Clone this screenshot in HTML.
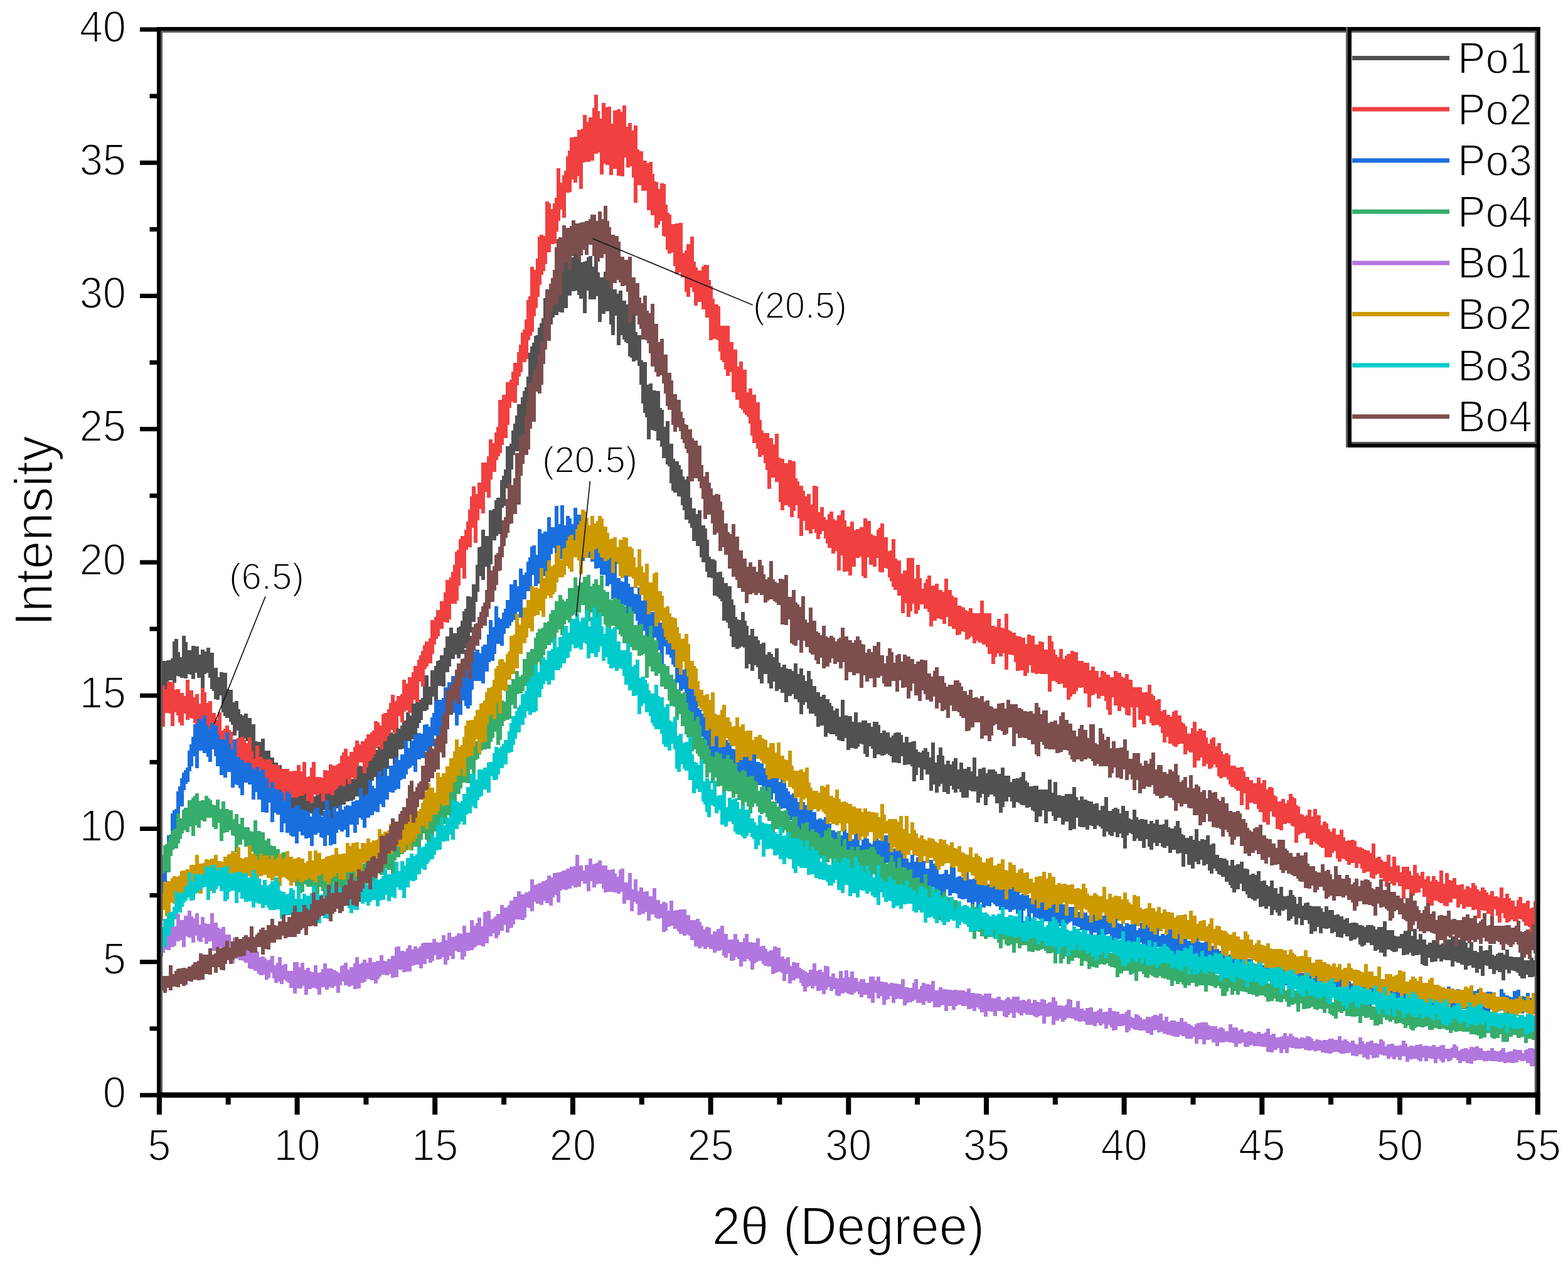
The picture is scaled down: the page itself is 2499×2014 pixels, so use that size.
<!DOCTYPE html><html><head><meta charset="utf-8"><title>XRD patterns</title><style>html,body{margin:0;padding:0;background:#fff;}svg{display:block;}text{font-family:"Liberation Sans",Arial,sans-serif;fill:#000;stroke:#fff;stroke-width:2.0px;stroke-linejoin:round;}</style></head><body>
<svg xmlns="http://www.w3.org/2000/svg" width="2499" height="2014" viewBox="0 0 2499 2014">
<rect width="2499" height="2014" fill="#fff"/>
<g stroke="none">
<path fill="#515151" d="M254 1056h3v-3h3h3h3v-1h3h3v-3h3v-27h3v-4h3h3v21h3v8h3v-34h3h3v10h3v13h3h3v-7h3h3v1h3h3v13h3v-8h3h3v3h3v-6h3h3v8h3h3v24h3h3v15h3v-8h3h3v1h3h3v26h3v1h3h3v20h3v-2h3h3v13h3v8h3v2h3v-3h3h3v7h3h3v10h3h3v27h3v1h3h3v-5h3h3v19h3h3h3v11h3h3v8h3h3v4h3h3v10h3v5h3v11h3v-15h3h3v5h3v18h3h3v-6h3h3v14h3v4h3v-4h3v-11h3h3v1h3v18h3h3v-9h3h3v-2h3v-8h3h3v4h3h3v4h3h3v6h3v-5h3v-11h3v-13h3h3v5h3v-7h3h3v10h3v-2h3h3v-13h3h3v-8h3h3v1h3v2h3v-6h3v-1h3v-17h3h3v1h3v-5h3h3v-6h3h3v-4h3v-6h3h3v-17h3h3v5h3v2h3v-27h3h3v19h3v-5h3v-8h3h3v-13h3h3v5h3v-19h3h3v-2h3v-2h3v-2h3v-3h3v-19h3v-17h3h3v18h3v-26h3h3v-7h3v-8h3v-1h3v-8h3h3v-12h3v-18h3h3v-14h3h3v9h3h3v-9h3v-2h3v-9h3v-15h3v-4h3v-20h3h3v1h3v-20h3h3v-31h3v-28h3v-1h3v-27h3h3v10h3h3v-41h3h3v-2h3v-14h3v-4h3h3v-28h3v-7h3v-10h3v-37h3h3v-4h3v-21h3v-11h3v-13h3v-18h3h3v-11h3v-10h3v-6h3v-17h3v-38h3v-10h3v-6h3v-11h3v-1h3v-12h3v-7h3v-8h3v-32h3v-14h3h3v6h3v-2h3v-12h3v-11h3h3h3v2h3v-27h3v-20h3h3v5h3v8h3h3v-16h3v-2h3v-15h3h3v41h3v-1h3v-1h3v-6h3v-2h3h3v17h3v-36h3h3v45h3v8h3h3v-9h3v-8h3h3v15h3v13h3v8h3h3v7h3v-5h3h3v16h3h3v6h3v23h3v6h3v-22h3h3v37h3v5h3h3v40h3v3h3h3v36h3v-2h3h3v11h3h3v1h3h3v27h3v3h3v27h3v-9h3h3v36h3h3v24h3v4h3h3v6h3v7h3v11h3v5h3v-5h3h3v34h3v17h3h3v9h3v-6h3h3v24h3h3v5h3v18h3v27h3v4h3h3v2h3v19h3v-1h3h3v9h3v9h3h3v5h3h3v21h3v9h3v19h3v4h3v1h3v-13h3h3v14h3v8h3v15h3v-10h3h3v12h3h3v6h3v6h3v-2h3h3v19h3v-4h3h3v3h3v5h3v-14h3h3v23h3v7h3v-4h3h3v6h3v1h3h3v3h3v-12h3h3v17h3v-9h3h3v11h3v9h3v-16h3h3v13h3v11h3h3v10h3h3v7h3v-3h3h3v7h3h3v6h3v5h3v7h3v-3h3h3v13h3v-27h3h3v25h3h3v1h3h3v9h3v-15h3h3v16h3h3v-3h3h3h3v4h3h3v6h3v-8h3h3h3v5h3v13h3v-4h3h3v3h3h3v8h3v-3h3v-4h3v-1h3h3h3v4h3v12h3v-9h3h3v9h3v-1h3v-1h3h3v13h3v4h3v1h3v-3h3v-4h3h3v6h3v9h3v-24h3h3v32h3v-12h3v-12h3h3v13h3v14h3v-6h3h3v6h3v-5h3v-5h3h3v18h3v-11h3h3v10h3h3v-3h3h3v7h3v-22h3h3v30h3v-12h3h3v-2h3h3v9h3v-6h3h3h3h3v3h3v4h3h3v-10h3h3v13h3h3h3v10h3v-5h3h3v-1h3h3v-2h3v-8h3h3v14h3v3h3v6h3h3v-1h3h3h3v6h3h3h3h3h3v-16h3h3v21h3v-17h3h3v21h3h3v1h3h3v-3h3h3h3h3v-11h3h3v16h3v5h3v-6h3h3v5h3h3v2h3v1h3h3v4h3v-1h3h3v11h3v-7h3h3v-14h3h3v22h3h3v-3h3v-2h3h3v2h3v7h3v-12h3h3v8h3h3v12h3v2h3v-16h3h3v12h3v4h3v-1h3h3v1h3h3v7h3v-5h3h3v4h3v-6h3h3v8h3h3v-1h3v-7h3h3v12h3v2h3h3v-4h3v-8h3h3v11h3v10h3v2h3v4h3h3v-3h3h3v6h3v-17h3h3v19h3v-3h3h3v1h3v-7h3h3v15h3v-2h3h3v18h3h3v5h3h3v1h3h3v3h3v8h3v-9h3h3v9h3v-2h3h3v-4h3h3v11h3h3v1h3v9h3v-2h3h3v2h3v-6h3h3v16h3v-1h3h3v7h3v2h3v-9h3h3v12h3h3v9h3v-11h3h3v15h3h3v-1h3v-9h3h3v8h3v3h3v11h3v-11h3h3v14h3v-4h3v-1h3h3v5h3v1h3h3h3h3h3v3h3v6h3v-9h3h3v6h3h3h3v8h3v-1h3h3v3h3h3v5h3v-2h3h3v8h3v-1h3h3h3v1h3v3h3h3v1h3v2h3v-3h3h3h3h3v2h3v5h3v-4h3h3h3v-9h3h3v14h3h3h3h3v9h3v1h3h3v-4h3h3v-5h3h3v-2h3h3v10h3v-11h3h3v17h3v-9h3h3v9h3h3v8h3v-3h3h3v-4h3h3v5h3h3v2h3v-2h3h3h3v-6h3h3v-5h3h3v14h3v-9h3h3v2h3h3h3v3h3v8h3v-9h3h3v14h3h3v2h3v-10h3h3v8h3v-1h3h3v-8h3h3v15h3v2h3v-3h3v-2h3h3h3v3h3v-8h3h3v11h3h3v1h3h3h3h3v-9h3h3v14h3h3h3v-4h3h3v4h3v-6h3v32h-3h-3v1h-3h-3h-3v-4h-3v6h-3h-3h-3v-4h-3v-5h-3v-2h-3v-1h-3v-1h-3v5h-3h-3v-6h-3v17h-3h-3v-13h-3h-3v-3h-3v6h-3h-3v-8h-3h-3v-5h-3v-1h-3v17h-3h-3v-11h-3v6h-3h-3v-8h-3h-3v-4h-3v1h-3v6h-3h-3v-8h-3h-3v-3h-3h-3v-2h-3v8h-3h-3v-10h-3h-3h-3v-1h-3v3h-3h-3v-5h-3v5h-3h-3v1h-3h-3v-7h-3v13h-3h-3v-1h-3v-2h-3v-15h-3v1h-3h-3v1h-3h-3v-5h-3v3h-3h-3v1h-3h-3v-11h-3h-3v5h-3v1h-3h-3v-2h-3v-2h-3h-3v11h-3h-3v-6h-3h-3v-5h-3v2h-3h-3v-9h-3h-3v-4h-3h-3v4h-3v2h-3h-3v-3h-3v-11h-3v3h-3h-3v2h-3h-3v-7h-3h-3v-4h-3v6h-3h-3v-1h-3h-3v-8h-3v2h-3h-3v-8h-3v1h-3h-3v-1h-3v8h-3h-3v-10h-3v7h-3h-3v4h-3h-3v-16h-3v-6h-3h-3v8h-3h-3v-11h-3v10h-3h-3v-13h-3v4h-3v3h-3h-3v-18h-3v2h-3h-3v8h-3h-3v-5h-3v-4h-3v8h-3h-3v-14h-3v4h-3h-3v-4h-3v1h-3h-3v-13h-3v3h-3h-3v-2h-3v-2h-3h-3v-6h-3v-5h-3h-3v-12h-3v9h-3h-3v5h-3h-3v-7h-3v-5h-3v-5h-3h-3v-8h-3h-3v-3h-3v-1h-3v-5h-3v-4h-3v8h-3h-3v-5h-3v-10h-3v2h-3h-3v-9h-3v7h-3h-3v-4h-3v11h-3h-3v-6h-3h-3v-17h-3v20h-3h-3v-22h-3v1h-3h-3v-6h-3h-3v5h-3h-3v-11h-3v3h-3h-3v-2h-3v-6h-3v5h-3h-3v-5h-3v11h-3h-3v-5h-3v-12h-3v14h-3h-3v-11h-3h-3v-4h-3v4h-3h-3v-11h-3v-2h-3v4h-3v21h-3h-3v-17h-3v-7h-3v6h-3h-3v-8h-3v6h-3h-3v-2h-3v-5h-3v8h-3h-3v-13h-3v-3h-3v-2h-3v6h-3h-3v-5h-3v-1h-3v7h-3h-3v-4h-3h-3h-3v-1h-3v-14h-3v18h-3h-3v2h-3h-3v-14h-3h-3v5h-3h-3v-11h-3h-3v5h-3h-3v-8h-3v-7h-3h-3v19h-3h-3v-21h-3v10h-3h-3v9h-3h-3v-17h-3v-2h-3v-5h-3v1h-3h-3v-4h-3h-3v-1h-3v-3h-3v-1h-3v9h-3h-3v-10h-3v-7h-3v7h-3h-3v9h-3v9h-3h-3v-15h-3h-3v-11h-3v-3h-3h-3v4h-3v13h-3h-3v-18h-3v6h-3v8h-3h-3v-18h-3h-3h-3v-2h-3v12h-3h-3h-3h-3v-9h-3v-5h-3v6h-3h-3v-5h-3v-6h-3v13h-3h-3v-3h-3h-3v-13h-3v4h-3v10h-3h-3v-13h-3v10h-3h-3v-26h-3h-3v-8h-3v17h-3h-3v-20h-3v12h-3v10h-3h-3v-24h-3v-3h-3h-3v1h-3h-3v-14h-3v11h-3h-3v-1h-3h-3h-3v-10h-3v-2h-3v-2h-3v2h-3v1h-3h-3v-2h-3h-3v6h-3h-3v-15h-3v-4h-3v17h-3h-3v-5h-3v-15h-3v-1h-3v5h-3v3h-3h-3v-1h-3h-3v3h-3h-3v-19h-3v5h-3h-3v-1h-3v-1h-3v-6h-3v-3h-3h-3h-3v-2h-3v6h-3h-3v-18h-3h-3v2h-3h-3v-17h-3v-4h-3h-3h-3v-8h-3v-10h-3v4h-3v15h-3h-3v-19h-3v-5h-3h-3v-8h-3v3h-3h-3v10h-3h-3v-15h-3h-3v-6h-3v3h-3h-3v-15h-3v11h-3h-3v-8h-3v-15h-3h-3v15h-3h-3v-7h-3v-19h-3v-3h-3v9h-3h-3v-11h-3v7h-3h-3v-33h-3v-2h-3v2h-3v2h-3h-3v-3h-3h-3v-17h-3v-13h-3v-9h-3v-3h-3h-3v-31h-3v-4h-3v-3h-3v-2h-3h-3v-28h-3v-1h-3h-3v-9h-3v-15h-3h-3v-8h-3v-18h-3h-3v-8h-3h-3v-21h-3v-7h-3v-6h-3h-3v-15h-3v-8h-3v-14h-3h-3v-6h-3h-3v-3h-3v-12h-3v-27h-3v-3h-3v-10h-3h-3v-18h-3v-10h-3h-3v-15h-3v-1h-3v-1h-3v15h-3h-3v-35h-3v-7h-3v-15h-3v-30h-3v-30h-3v-9h-3v2h-3h-3v-6h-3v-2h-3v-21h-3v-2h-3v-4h-3v-7h-3v16h-3h-3v-47h-3v31h-3h-3v-17h-3v-21h-3h-3v4h-3h-3v13h-3h-3v-41h-3v5h-3h-3h-3h-3v-14h-3v36h-3h-3v-23h-3h-3v-6h-3v-7h-3v1h-3h-3v7h-3h-3v20h-3h-3v7h-3h-3v-1h-3v5h-3h-3v4h-3v11h-3v11h-3h-3h-3v30h-3v4h-3v7h-3v33h-3v7h-3h-3v12h-3h-3v19h-3v40h-3h-3v12h-3h-3v13h-3v14h-3h-3v6h-3v23h-3v27h-3h-3v3h-3v28h-3v3h-3v42h-3h-3v3h-3v7h-3h-3v38h-3v21h-3h-3v-17h-3v21h-3h-3v-6h-3v25h-3v16h-3v32h-3h-3v17h-3v20h-3h-3v5h-3v9h-3h-3v7h-3h-3v-6h-3v7h-3h-3v12h-3v9h-3h-3v23h-3h-3v-1h-3h-3v24h-3h-3v-7h-3v13h-3h-3v8h-3v2h-3h-3v14h-3v5h-3v8h-3v12h-3h-3v6h-3v3h-3h-3v-1h-3v7h-3v6h-3v1h-3h-3v12h-3v23h-3h-3v-20h-3h-3v16h-3h-3v7h-3v9h-3h-3v-1h-3h-3v-2h-3v6h-3v3h-3h-3v19h-3v6h-3h-3v-8h-3h-3v5h-3h-3v5h-3v2h-3h-3v1h-3h-3v5h-3h-3v12h-3h-3v-6h-3v8h-3h-3v14h-3h-3v-8h-3v-5h-3v-6h-3v9h-3h-3v3h-3v13h-3h-3v-13h-3v-7h-3v-1h-3h-3v9h-3h-3v-7h-3h-3v7h-3h-3v-7h-3h-3v-13h-3h-3v-2h-3v-4h-3v-12h-3v-1h-3v-1h-3h-3v-10h-3v-4h-3h-3v11h-3h-3v-35h-3h-3v-1h-3v-3h-3v-12h-3v2h-3h-3v6h-3h-3v-32h-3v-5h-3v-4h-3v-3h-3v14h-3h-3v-24h-3v8h-3h-3v-17h-3v-5h-3v-6h-3h-3v-3h-3v-6h-3v-27h-3v7h-3h-3v-1h-3v-13h-3v-3h-3v-18h-3v-8h-3v2h-3v25h-3h-3v-19h-3h-3v-8h-3v10h-3h-3v-7h-3v-1h-3v7h-3h-3v-1h-3h-3v-2h-3v-1h-3v11h-3h-3v-4h-3h-3v9h-3v18h-3h-3v-12h-3v4h-3z"/>
<path fill="#F14040" d="M254 1106h3v-14h3h3v6h3v-12h3h3v1h3h3v12h3v-1h3h3v6h3h3v5h3v-26h3h3v17h3h3v11h3v-5h3h3v15h3v-25h3h3v7h3v17h3v-3h3h3v19h3h3v11h3v-12h3h3v29h3v-3h3v-5h3h3v7h3v3h3v13h3h3v-3h3h3v-2h3h3v4h3v6h3v-9h3h3v22h3v12h3v-21h3h3v18h3h3v4h3h3h3h3v2h3v6h3h3v1h3h3v6h3h3h3h3h3v4h3h3v-1h3h3v-9h3h3v10h3v-15h3h3v24h3v-1h3v-14h3v-9h3h3v24h3h3h3v1h3v-12h3h3v1h3v-10h3h3v2h3h3v-2h3v-2h3v-12h3v-5h3v-6h3h3v12h3v-7h3h3v-8h3v-10h3h3v6h3v-5h3h3v-4h3v-7h3h3v-3h3v-3h3v-15h3h3v2h3v5h3v-18h3v-2h3h3v-6h3v-10h3v-13h3h3v10h3v-8h3h3v-3h3v-23h3h3v6h3v-10h3h3v-8h3v-10h3h3v-10h3v-7h3v-7h3v-9h3v-6h3h3v-5h3v-29h3h3v-5h3v-11h3h3v-14h3h3v-14h3v-20h3h3v-4h3v-9h3v-11h3v-21h3v-3h3v-17h3v-5h3h3v-10h3v-13h3v-19h3v-21h3v-16h3h3v12h3v-18h3h3v-32h3h3h3v-10h3v-27h3h3v6h3v-17h3v-9h3v-43h3h3v-8h3h3v-20h3h3v-4h3v-13h3v-14h3h3v-17h3v-12h3v-19h3v-5h3v-16h3v-31h3v-6h3v-47h3h3v5h3v-18h3v-35h3v-3h3h3v2h3v-55h3h3v3h3v9h3v-9h3v-9h3v-47h3h3v23h3v-12h3v-7h3v-23h3v-9h3v-21h3h3v-1h3h3v-11h3h3v-2h3v-22h3h3v11h3v-7h3h3v-15h3v-21h3h3v26h3v12h3v-25h3h3v7h3v-1h3h3v27h3v-21h3h3v-2h3h3v4h3v-10h3h3v34h3v-6h3h3v12h3v-8h3h3v38h3v3h3h3v15h3h3v4h3v-2h3h3v19h3v12h3v1h3v11h3v-9h3h3v1h3v33h3v13h3v3h3v15h3h3v-1h3h3v-1h3h3v48h3v-4h3v-10h3h3v-12h3h3v40h3v9h3v5h3h3v-6h3v-3h3h3h3v24h3v10h3v20h3v9h3h3v3h3v31h3h3h3h3h3v26h3h3v12h3h3v27h3v-8h3h3v13h3h3v36h3v-6h3h3v10h3h3v12h3h3v28h3v17h3v4h3h3h3v8h3h3v10h3v-17h3h3v38h3v2h3h3v7h3h3v-5h3h3v2h3h3v27h3v5h3v7h3h3v8h3v9h3v-4h3h3v17h3v-30h3h3v1h3v41h3v-8h3h3v16h3v4h3v-9h3v-4h3h3v12h3v2h3v-8h3h3v-8h3h3v16h3v10h3h3v-8h3h3v14h3v-2h3h3v-3h3h3v-14h3h3v4h3h3v21h3v2h3v1h3v-10h3v-3h3v-7h3h3v22h3h3v22h3v-1h3v-18h3h3v31h3v3h3h3v21h3v-5h3h3v-20h3h3h3h3v33h3v-22h3h3v21h3v17h3v-9h3v-6h3v-6h3h3v16h3h3v-3h3h3v10h3h3v3h3v-21h3h3v18h3h3v9h3v3h3h3v13h3h3v2h3v1h3v4h3v2h3v-5h3h3v8h3h3h3h3v-20h3h3v20h3h3h3h3v20h3h3v2h3v-13h3h3v14h3v1h3v-23h3h3v26h3v2h3v2h3h3v5h3v1h3h3v2h3h3v10h3v-15h3h3v2h3h3v14h3h3v-5h3h3v1h3v12h3h3v-22h3h3v9h3v13h3v8h3v4h3v-13h3h3v16h3v-5h3v-3h3h3v-5h3h3v2h3h3v14h3h3h3v3h3h3h3v12h3v-6h3h3v7h3h3v10h3v-10h3h3v2h3v4h3h3v4h3h3v-10h3h3v3h3h3v6h3v2h3v-6h3h3v9h3h3v12h3h3h3h3h3v8h3h3h3v-12h3h3v15h3v3h3v7h3v-2h3h3v19h3v-2h3h3v8h3h3v3h3v-8h3v-2h3h3v8h3h3v11h3v2h3v4h3v12h3h3v-9h3v-10h3h3v15h3v-4h3h3v3h3h3v11h3v10h3v-7h3v-3h3h3v14h3v-5h3h3v13h3v5h3v-2h3h3v3h3v17h3h3h3v3h3h3v-1h3h3v7h3v9h3h3v5h3h3v5h3h3v-9h3h3v9h3v-5h3h3v15h3v-4h3h3v1h3v12h3v2h3v8h3h3v-4h3h3v7h3v-5h3v-10h3h3v5h3v2h3v11h3v2h3v12h3v1h3v3h3v-2h3v-9h3h3v11h3v-12h3h3v10h3h3v16h3v-6h3h3v3h3v9h3v4h3v-5h3h3v10h3h3v-8h3h3v12h3v6h3v-1h3h3v-1h3h3v2h3v9h3v1h3h3v2h3v2h3v1h3h3v4h3v-15h3h3v23h3v-2h3h3v5h3v3h3h3v-11h3h3v19h3v-16h3h3v14h3h3v11h3v-9h3h3h3h3v7h3v7h3v-17h3h3v13h3v4h3v-6h3h3v12h3v-5h3h3v8h3v-8h3h3v6h3v3h3v-18h3h3v21h3v-17h3h3v11h3v1h3v-4h3h3v11h3h3v-1h3h3v8h3v-5h3h3v3h3v-8h3h3v4h3v6h3v3h3v-6h3h3v4h3v4h3v4h3v-6h3h3v8h3h3v2h3v-16h3h3v17h3v-7h3h3v7h3v4h3h3v9h3v-10h3v-5h3h3v10h3h3v-4h3h3v12h3v-1h3v-10h3h3v54h-3h-3v-2h-3h-3v-11h-3v-2h-3h-3v-6h-3v-4h-3v-1h-3v3h-3v1h-3h-3v-3h-3v3h-3v2h-3h-3v-7h-3v-8h-3v15h-3h-3v-11h-3v-10h-3v13h-3h-3v-6h-3h-3v-5h-3h-3v-1h-3v13h-3h-3v-14h-3v1h-3h-3v-5h-3h-3h-3v3h-3h-3v-7h-3v5h-3h-3v-14h-3h-3v6h-3h-3v6h-3h-3v-1h-3v-4h-3h-3v-2h-3v-2h-3h-3v8h-3h-3v1h-3h-3v-15h-3h-3v-14h-3v7h-3h-3v1h-3v4h-3h-3v-4h-3v-6h-3h-3v15h-3h-3v-20h-3h-3v-6h-3v5h-3h-3v-3h-3v-4h-3v9h-3h-3v-9h-3v-5h-3h-3v-7h-3v2h-3v6h-3h-3v-2h-3v-9h-3h-3v2h-3h-3v-7h-3v-8h-3v7h-3h-3v-8h-3h-3v3h-3h-3v-6h-3v-3h-3v-1h-3v5h-3h-3v-5h-3v-12h-3v3h-3v7h-3h-3h-3h-3v-15h-3h-3v-2h-3v-3h-3v-2h-3v-3h-3v5h-3h-3v-10h-3h-3v-9h-3h-3v1h-3v2h-3v13h-3h-3v-26h-3v-1h-3v-4h-3v-1h-3v2h-3h-3v10h-3h-3v-2h-3h-3v-19h-3v-1h-3v-8h-3v21h-3h-3v-4h-3h-3v-16h-3h-3v-5h-3v-8h-3h-3v-2h-3h-3v11h-3h-3v-26h-3v19h-3h-3v-23h-3h-3v-3h-3v-3h-3h-3v-4h-3v-8h-3v-4h-3h-3v2h-3h-3v-3h-3v-14h-3v-5h-3v5h-3v2h-3h-3v-8h-3v4h-3h-3v-14h-3v5h-3h-3v11h-3h-3v-24h-3h-3v-3h-3v6h-3h-3v-17h-3h-3v1h-3v4h-3h-3v-2h-3v-3h-3h-3v-11h-3v9h-3h-3v-15h-3v-10h-3v-3h-3h-3v1h-3h-3v-4h-3v-11h-3v-1h-3v14h-3h-3v-7h-3h-3v-20h-3v32h-3h-3v-32h-3v13h-3h-3v-1h-3v-11h-3v-2h-3v7h-3h-3v-9h-3h-3v-13h-3v28h-3h-3v-8h-3v-14h-3v-8h-3h-3v4h-3h-3v-8h-3v2h-3v1h-3v19h-3h-3v-22h-3h-3v-10h-3v1h-3h-3v5h-3v5h-3h-3v4h-3v5h-3h-3v-19h-3h-3v-7h-3v1h-3h-3v-3h-3v-2h-3h-3v17h-3h-3v-28h-3h-3h-3h-3v-1h-3v1h-3h-3v-2h-3h-3v-12h-3v12h-3v5h-3h-3v-9h-3h-3v1h-3h-3v-14h-3v-11h-3v-1h-3h-3v24h-3h-3v-26h-3v5h-3h-3v-5h-3v6h-3v11h-3h-3v-16h-3h-3v-11h-3v-4h-3h-3v-3h-3h-3v-3h-3v4h-3h-3v-11h-3v3h-3v2h-3h-3v-12h-3v-1h-3v5h-3v1h-3h-3v-10h-3h-3v-4h-3h-3v-15h-3v11h-3h-3v-7h-3v-1h-3v-1h-3v4h-3h-3v9h-3h-3v-23h-3v-5h-3h-3v-7h-3h-3v9h-3v6h-3h-3v-16h-3v12h-3v9h-3h-3v-22h-3v16h-3h-3v-28h-3h-3v-9h-3h-3v-5h-3v-9h-3v-6h-3v-14h-3v-1h-3v7h-3h-3v-1h-3v-22h-3v14h-3h-3v-3h-3h-3v-12h-3v33h-3h-3v-3h-3v-31h-3v2h-3h-3v14h-3h-3v14h-3h-3v-7h-3v1h-3h-3v-26h-3v24h-3h-3v-31h-3v4h-3h-3v-9h-3h-3v-7h-3v-8h-3v-12h-3v5h-3v8h-3h-3v-10h-3v-6h-3v7h-3h-3v-5h-3h-3v-15h-3v24h-3h-3v-28h-3v-21h-3v9h-3v10h-3h-3v-16h-3v-3h-3h-3v8h-3h-3v-13h-3v-32h-3h-3v-7h-3h-3v18h-3h-3v-30h-3v-11h-3v-13h-3v3h-3h-3v-13h-3v-9h-3h-3v-12h-3v-19h-3v-11h-3v-3h-3v-3h-3v-5h-3v-3h-3v-13h-3h-3v-12h-3h-3v-32h-3v6h-3h-3v-10h-3v-12h-3v-3h-3v-14h-3v-18h-3v-2h-3h-3v2h-3h-3v-36h-3h-3v-13h-3h-3v-12h-3h-3v6h-3h-3v-22h-3v-7h-3v15h-3h-3v-8h-3v-23h-3h-3v-8h-3v3h-3h-3v-13h-3v-22h-3v2h-3h-3v-6h-3v-21h-3v-1h-3v-24h-3v6h-3v5h-3h-3v-20h-3h-3v-8h-3h-3v-31h-3h-3h-3v-9h-3h-3v28h-3h-3v-40h-3v-18h-3v2h-3h-3v-16h-3v30h-3h-3v-1h-3h-3v-11h-3h-3v10h-3h-3v-16h-3h-3v-2h-3v17h-3h-3v-35h-3v2h-3h-3v11h-3h-3v2h-3h-3h-3v1h-3v42h-3h-3v-20h-3v10h-3h-3v-5h-3v20h-3v1h-3h-3v40h-3h-3v-13h-3v18h-3v17h-3v19h-3v1h-3h-3v13h-3h-3v19h-3v11h-3v6h-3v16h-3v19h-3v18h-3v13h-3v25h-3v6h-3v7h-3v30h-3v5h-3h-3v16h-3v7h-3v14h-3v28h-3h-3v-2h-3v10h-3v27h-3v21h-3h-3v11h-3v13h-3v5h-3v6h-3v19h-3h-3v12h-3v29h-3h-3v-9h-3v34h-3h-3v-7h-3v18h-3v36h-3h-3v-24h-3v31h-3h-3v4h-3v46h-3h-3v-17h-3v28h-3v24h-3v5h-3h-3h-3v25h-3v5h-3h-3v-1h-3v11h-3h-3v12h-3v4h-3v9h-3v15h-3v15h-3h-3v5h-3v4h-3v28h-3h-3v-8h-3v33h-3h-3v-4h-3v6h-3v15h-3h-3v-4h-3v2h-3v17h-3h-3v-10h-3v19h-3v8h-3h-3v-5h-3v7h-3v3h-3v8h-3h-3v13h-3h-3v-6h-3v4h-3v10h-3v5h-3v5h-3v1h-3v10h-3v9h-3h-3v-17h-3h-3v7h-3v20h-3h-3v-3h-3v10h-3h-3v-7h-3v11h-3h-3v-2h-3v1h-3v5h-3v2h-3v8h-3h-3v-3h-3v1h-3h-3v12h-3h-3v-13h-3v3h-3h-3v-1h-3v14h-3h-3v-4h-3h-3v-11h-3v3h-3h-3h-3v3h-3h-3h-3h-3v7h-3h-3v3h-3h-3v-11h-3v-11h-3v23h-3h-3v-2h-3h-3v-22h-3h-3v-5h-3v8h-3h-3v-13h-3v9h-3h-3v-11h-3h-3v-12h-3v-3h-3h-3v-7h-3v10h-3h-3v-13h-3v3h-3h-3v-1h-3h-3v-2h-3v-4h-3v-9h-3h-3v-3h-3h-3v5h-3h-3v-13h-3v-19h-3v-8h-3v9h-3h-3v3h-3h-3v-20h-3v17h-3h-3v-16h-3v-5h-3v-6h-3v-7h-3v-1h-3v3h-3h-3v-10h-3v19h-3h-3v-5h-3v-11h-3v-5h-3v22h-3h-3v-20h-3v-1h-3h-3v22h-3h-3v-3h-3z"/>
<path fill="#1A6FDF" d="M254 1387h3v-13h3v-8h3v-16h3v-19h3v-1h3v-34h3v-5h3v-2h3v-28h3v-8h3v-13h3v-9h3v-4h3v-4h3v-27h3v-10h3v-12h3v-20h3h3v-9h3h3v3h3v-8h3h3v15h3v6h3v-9h3h3v4h3h3v14h3v8h3h3v1h3v-12h3h3v18h3v9h3v-16h3h3v28h3h3v5h3h3v5h3v-1h3h3v1h3v7h3v3h3v-4h3h3v7h3v-3h3h3v13h3v2h3v15h3v-10h3h3v10h3v2h3h3v3h3v2h3v13h3v-15h3h3v4h3v23h3h3v-5h3h3v1h3v6h3h3v1h3h3v3h3v7h3v-7h3v-5h3v-2h3h3v10h3v4h3v-9h3v-17h3h3v15h3v13h3v-18h3h3v8h3v-10h3h3v7h3v-5h3v-2h3h3v1h3v-7h3h3v-2h3h3v-19h3h3v13h3v-3h3h3v-23h3h3v9h3v4h3v-18h3v-9h3h3v7h3v-12h3h3v12h3v-16h3h3v-3h3v-11h3h3v5h3v-9h3h3v-22h3h3v12h3v-12h3h3v-9h3h3v-3h3h3v1h3v-14h3v-1h3h3v4h3v-15h3v-7h3v-19h3h3v-2h3h3v-3h3v-17h3h3v-8h3h3v-10h3h3v1h3v-9h3h3v-1h3h3v-4h3h3v2h3v-13h3v-10h3v-5h3v-3h3h3v6h3v-11h3v-3h3h3v-16h3v-23h3h3v11h3v-33h3h3v18h3v2h3v-10h3v-6h3v-14h3h3v-25h3h3v-7h3h3v10h3v-28h3h3v10h3v-4h3v-17h3v-7h3v-17h3v-2h3h3v15h3v-41h3h3v7h3v-3h3h3v-23h3h3v16h3h3v-34h3h3v29h3v-30h3h3v32h3v-15h3h3v4h3v9h3v-26h3h3v11h3h3v11h3h3v15h3v3h3v-4h3v-9h3h3v6h3h3v12h3v-14h3h3v38h3v1h3v10h3h3v7h3v-9h3h3v34h3h3v5h3v1h3v-14h3h3v17h3v5h3h3v11h3v1h3v-11h3h3v21h3v-18h3h3v22h3v15h3v-1h3h3v2h3v8h3v1h3v6h3v-4h3h3v11h3v4h3h3v12h3v19h3v-3h3h3v13h3h3v23h3v-6h3h3v20h3h3v14h3v11h3h3v22h3v3h3v6h3v6h3h3v7h3h3v15h3h3v1h3h3v6h3h3v14h3v-7h3h3v4h3v1h3v9h3v1h3v-11h3h3v14h3v5h3v-4h3h3v7h3v-15h3h3v10h3v1h3v13h3h3v2h3h3v8h3v-5h3h3v-8h3h3v24h3v-5h3h3v16h3v-17h3h3v13h3v14h3v5h3v5h3v-2h3h3v3h3v11h3h3h3h3v5h3v-1h3h3v8h3v4h3h3v12h3v-2h3h3v2h3v-4h3h3v10h3h3v11h3h3v3h3h3v6h3v-1h3v-11h3h3v7h3v12h3h3v-2h3v-10h3h3h3v20h3v-9h3v-2h3h3h3v7h3v2h3v-17h3h3h3v11h3v-4h3h3v-4h3h3v9h3v7h3h3v5h3v-1h3h3v-9h3h3v14h3h3v12h3v6h3v-12h3h3v11h3v-7h3h3v1h3h3v5h3v12h3h3v-14h3h3v6h3h3v5h3v12h3h3v-1h3v-6h3h3v7h3v-12h3v-1h3h3v18h3v-2h3h3v2h3h3v-12h3h3v15h3h3v-1h3h3v1h3h3v2h3h3v1h3v4h3v1h3v-4h3h3v5h3h3v4h3v-1h3v-3h3h3v11h3v-3h3v-12h3h3v6h3v-2h3h3v9h3v7h3v-2h3v-1h3h3v3h3v5h3h3v-5h3h3v2h3v7h3h3v-12h3h3v1h3v4h3h3v7h3v5h3v-8h3h3v9h3h3h3v-1h3h3v5h3h3h3v2h3v5h3v1h3v-12h3h3v13h3h3v5h3v-10h3h3v1h3v4h3h3v3h3h3v2h3h3v-1h3h3v8h3v1h3v-14h3h3v18h3v1h3h3v4h3v-5h3h3v2h3h3v-3h3h3v12h3v-3h3v-9h3h3v10h3v-7h3h3v-5h3h3v19h3v-17h3h3v21h3v-3h3h3v2h3v-16h3h3v4h3v13h3v-4h3h3v-3h3h3v8h3h3v3h3v4h3h3v-1h3h3v-12h3h3v14h3v2h3h3v-1h3h3v-3h3h3v9h3v2h3v2h3v1h3v3h3v4h3v-12h3h3v4h3v10h3v-14h3h3v16h3h3h3v6h3v-2h3h3v1h3h3h3h3v6h3v2h3v-13h3h3v1h3v14h3h3v-4h3h3v6h3v-4h3h3v7h3v5h3h3v-4h3h3v-3h3h3h3h3v4h3v2h3v3h3v-1h3h3v1h3h3v1h3h3v-10h3h3v13h3v-3h3h3h3h3v-3h3h3v-2h3h3v6h3h3v4h3v7h3v-3h3h3v1h3h3v1h3h3v1h3v4h3v-4h3v-8h3h3v13h3v-1h3h3v-7h3h3v7h3v2h3v-2h3h3v1h3h3v5h3h3v1h3v1h3v-1h3v-7h3h3v12h3v-1h3v-5h3h3v2h3v1h3v1h3v-1h3v-1h3h3v-1h3v-1h3h3v3h3v2h3v1h3v-3h3h3h3h3v4h3v1h3v-2h3h3v4h3h3v-8h3h3v6h3v-9h3h3v11h3v-6h3h3v-1h3h3v5h3h3v4h3h3v-1h3v-1h3h3v-4h3h3v-3h3h3v13h3v-3h3v-2h3v-4h3h3h3v3h3v7h3v-1h3v-1h3v-12h3h3v6h3v4h3h3v2h3v1h3v-10h3h3v-2h3h3v10h3h3v1h3v-6h3h3v8h3v-3h3v-2h3h3v38h-3v-8h-3v-3h-3v4h-3h-3v-5h-3h-3v4h-3h-3v-3h-3h-3h-3v7h-3h-3v-5h-3v5h-3h-3v-7h-3v-2h-3h-3v1h-3v3h-3h-3v-5h-3h-3v3h-3h-3v-1h-3h-3v-3h-3v-1h-3v-1h-3v2h-3h-3v-1h-3h-3v1h-3h-3h-3h-3h-3h-3v10h-3h-3v-12h-3h-3h-3v-3h-3v1h-3v1h-3h-3v1h-3v9h-3h-3v-9h-3v7h-3h-3v-12h-3h-3h-3v4h-3v2h-3h-3v-3h-3h-3v4h-3h-3h-3v-3h-3v-3h-3h-3v4h-3h-3v-4h-3v-2h-3v3h-3v2h-3h-3v-6h-3v5h-3h-3v-2h-3v-4h-3v1h-3h-3v-3h-3v-3h-3v6h-3v5h-3h-3v-5h-3v-6h-3h-3v-1h-3v2h-3h-3v-10h-3v7h-3h-3v-3h-3v-1h-3v-3h-3v6h-3h-3v-6h-3v13h-3h-3v-9h-3h-3v-3h-3v7h-3h-3v-12h-3h-3v5h-3h-3v-5h-3h-3v1h-3h-3h-3v-5h-3h-3v-2h-3v1h-3v3h-3v9h-3h-3v-13h-3v-5h-3v-2h-3v17h-3h-3v-14h-3h-3v-4h-3v10h-3h-3v3h-3h-3v-11h-3v-4h-3h-3v10h-3h-3v-2h-3v-8h-3v-2h-3h-3v-4h-3v4h-3h-3v1h-3h-3v-1h-3v-6h-3h-3v-6h-3v4h-3h-3v-8h-3h-3v13h-3h-3v-16h-3v13h-3h-3v-15h-3v-3h-3v3h-3h-3v-6h-3v-4h-3v2h-3h-3v-2h-3h-3v-3h-3v2h-3h-3v-1h-3v1h-3h-3v-6h-3v3h-3h-3v-5h-3h-3v2h-3v4h-3h-3v-3h-3h-3v-1h-3v-8h-3h-3v-1h-3v1h-3v1h-3h-3v-5h-3v-3h-3v1h-3h-3v-1h-3h-3v11h-3h-3v-8h-3h-3v-10h-3v4h-3h-3v-3h-3v12h-3h-3v-12h-3h-3v-2h-3v14h-3h-3v-19h-3v1h-3v2h-3h-3h-3h-3v-11h-3v1h-3h-3v9h-3h-3v-6h-3h-3v-6h-3h-3v4h-3h-3v-7h-3v2h-3h-3v-3h-3h-3v-5h-3v-1h-3v-1h-3h-3v-7h-3v2h-3v3h-3v2h-3v4h-3h-3v-3h-3h-3v-9h-3h-3v-1h-3v12h-3h-3v-10h-3h-3v4h-3h-3v-7h-3v-2h-3v-1h-3h-3v-7h-3v17h-3h-3v-24h-3v3h-3v19h-3h-3v-14h-3h-3v-7h-3v1h-3v3h-3h-3v-4h-3h-3v-1h-3v2h-3h-3v-6h-3h-3v-3h-3v-3h-3v6h-3h-3v-1h-3v3h-3h-3v-8h-3v14h-3h-3v-15h-3v4h-3h-3v-3h-3h-3v-6h-3v1h-3h-3v-1h-3v-1h-3v-7h-3v-1h-3h-3v4h-3h-3v-10h-3v11h-3h-3v7h-3h-3v-10h-3v-1h-3v12h-3h-3v-11h-3h-3v-10h-3v-1h-3v6h-3h-3v-14h-3h-3v10h-3h-3v-3h-3v1h-3h-3v-11h-3h-3v-8h-3h-3v-8h-3h-3v-6h-3h-3v-3h-3h-3v-3h-3v4h-3h-3h-3h-3v-7h-3h-3v1h-3v4h-3h-3v-3h-3v18h-3h-3v-26h-3h-3v16h-3h-3v-8h-3v-6h-3v18h-3h-3v-20h-3v-4h-3v-1h-3v1h-3v17h-3h-3v-10h-3v-13h-3h-3v-2h-3h-3h-3h-3v-6h-3v-2h-3h-3v3h-3h-3v-15h-3v-5h-3v-4h-3v-10h-3v6h-3h-3h-3h-3h-3h-3v-15h-3v-5h-3v6h-3h-3v-11h-3v-8h-3h-3v1h-3h-3v-9h-3v-4h-3v-12h-3v10h-3h-3v-7h-3h-3v-10h-3h-3v-6h-3h-3v-1h-3h-3v-3h-3h-3v4h-3v9h-3h-3v-14h-3h-3v-11h-3v-6h-3v2h-3h-3v-5h-3h-3v-5h-3h-3v-1h-3h-3v11h-3h-3v-30h-3h-3v12h-3h-3v-16h-3v-6h-3v-1h-3h-3v-16h-3v-6h-3h-3v-3h-3h-3h-3v-31h-3h-3h-3v-8h-3v-28h-3v3h-3h-3v-13h-3h-3v-25h-3v-4h-3v-11h-3v-5h-3h-3v-13h-3v31h-3h-3v-25h-3v-8h-3v-12h-3v7h-3h-3v-8h-3h-3h-3v-10h-3v-10h-3v2h-3h-3v-8h-3v-11h-3v-2h-3v-5h-3v6h-3h-3v-12h-3v8h-3h-3v-3h-3v-8h-3v-9h-3v2h-3h-3v-24h-3v3h-3h-3v-18h-3h-3h-3v-11h-3v1h-3h-3v-11h-3h-3v-6h-3h-3v-13h-3v18h-3v6h-3h-3v-25h-3h-3v-7h-3v13h-3h-3v-8h-3v12h-3h-3v6h-3h-3v-18h-3v9h-3h-3v-9h-3v10h-3v31h-3h-3v4h-3h-3v-13h-3h-3v25h-3v4h-3h-3v-18h-3v20h-3v6h-3h-3v13h-3h-3v29h-3h-3v-9h-3v13h-3h-3v3h-3v6h-3v4h-3h-3v9h-3v19h-3h-3v-3h-3h-3v16h-3v11h-3h-3v2h-3v15h-3h-3v19h-3h-3v-4h-3h-3h-3h-3v14h-3v25h-3v5h-3h-3v-4h-3v-9h-3v23h-3h-3v17h-3h-3v-20h-3v2h-3h-3v9h-3v18h-3h-3v-1h-3v25h-3h-3v-11h-3v-6h-3v17h-3v3h-3v9h-3h-3v-4h-3v11h-3h-3v2h-3h-3v20h-3h-3v-10h-3v3h-3v2h-3v9h-3v7h-3h-3v2h-3v14h-3h-3v2h-3v4h-3h-3v-1h-3v12h-3h-3v12h-3h-3v-5h-3v13h-3h-3v-1h-3v6h-3h-3v4h-3h-3v16h-3h-3v-13h-3v-3h-3v11h-3v13h-3h-3v-13h-3h-3v20h-3h-3v-12h-3v3h-3h-3v-3h-3v5h-3v18h-3h-3v2h-3h-3v-16h-3v17h-3h-3v-13h-3v-1h-3v-7h-3v3h-3h-3v18h-3h-3v-13h-3v1h-3h-3v-5h-3h-3v-6h-3v19h-3h-3v-11h-3h-3v-2h-3v-4h-3h-3v-15h-3v14h-3h-3v-28h-3h-3v-3h-3v15h-3h-3v-31h-3v16h-3h-3v-1h-3h-3v-20h-3h-3v-12h-3v12h-3h-3v-24h-3h-3v-3h-3h-3v20h-3h-3v-11h-3v-5h-3v-1h-3v5h-3h-3v-25h-3h-3v9h-3h-3v-4h-3h-3v-14h-3h-3v-16h-3v-11h-3v20h-3h-3v-8h-3v-6h-3h-3v-4h-3h-3v28h-3h-3v-19h-3v16h-3v8h-3v17h-3v3h-3v10h-3v26h-3h-3v34h-3h-3v4h-3v25h-3v14h-3v15h-3v8h-3v24h-3v1h-3v17h-3v8h-3z"/>
<path fill="#37AD6B" d="M254 1363h3h3v-16h3v-2h3v-5h3v-8h3v-8h3v-2h3v-2h3v-24h3h3v8h3v-14h3v-3h3h3v-12h3h3v-4h3v-3h3v-4h3h3v12h3v-1h3h3v-7h3h3v4h3v3h3v7h3v1h3v-9h3h3v15h3v-12h3h3v12h3h3v2h3h3v14h3v-8h3h3v16h3v-10h3h3v15h3h3h3v6h3v1h3v-18h3h3v17h3h3v2h3h3v13h3v-3h3h3v11h3v1h3h3v5h3h3v10h3v-5h3h3v9h3v1h3v4h3v2h3v2h3v-4h3h3v4h3h3v4h3h3v-5h3h3v17h3h3v2h3v-2h3h3v-19h3h3v20h3v-19h3h3v7h3h3v13h3v-8h3h3v5h3h3v3h3v-5h3h3v1h3v-5h3v-3h3v-3h3h3v5h3v-2h3v-6h3h3v-3h3v-16h3h3v15h3v4h3v-9h3v-3h3h3v-6h3h3v3h3v-1h3v-24h3v-4h3h3v3h3h3v-6h3h3v9h3v-4h3v-11h3h3v2h3v-2h3v-11h3h3h3v5h3v-7h3h3h3v-3h3v-3h3v-9h3v-23h3h3v14h3v-27h3h3v9h3h3v-11h3h3v-12h3v-10h3h3v3h3v-10h3h3v-15h3h3v-9h3v-20h3h3v14h3v-5h3h3v-12h3h3v-18h3h3v-21h3h3v2h3h3v-14h3v-9h3h3v-3h3h3v10h3v-12h3h3v2h3v-19h3v-8h3h3v-9h3h3v-13h3h3v9h3v-3h3v-25h3h3v-11h3h3v-5h3h3v-18h3v-8h3v-6h3h3v-2h3v-8h3h3v-2h3v-12h3v-6h3h3v-14h3h3v-10h3h3v7h3v3h3v-4h3v-17h3h3h3v-17h3h3v13h3v-5h3h3v-9h3h3v-3h3h3v18h3v-4h3v-7h3h3v9h3v-15h3h3v23h3v3h3h3v12h3v1h3v-4h3h3v3h3h3v7h3h3v4h3v11h3v-10h3h3v7h3v22h3h3h3v-2h3h3v18h3h3v2h3v-17h3h3v19h3v4h3h3v20h3v1h3v17h3h3v3h3h3v14h3h3v7h3v5h3v11h3h3v7h3v-2h3h3v17h3v11h3v3h3h3v14h3v-6h3h3v14h3v19h3v2h3v2h3v9h3v6h3v11h3v1h3v-8h3h3v3h3h3v8h3h3v-6h3h3v7h3h3v6h3h3v13h3v2h3v-4h3h3v2h3v9h3v-1h3v-1h3h3v8h3v2h3v14h3v-6h3v-1h3h3v7h3v-6h3h3v23h3h3h3v8h3h3v7h3h3v-1h3h3v8h3v9h3v-7h3h3h3v16h3v4h3v-9h3h3v-2h3h3v15h3v-4h3h3v5h3h3v3h3v6h3v-2h3v-10h3h3v-4h3h3v15h3v3h3h3v-13h3h3v24h3v-11h3h3v17h3h3v-5h3h3v6h3v-6h3h3v6h3v-1h3h3v-1h3h3v-3h3v-1h3h3v5h3v7h3h3v4h3h3v10h3v1h3v-3h3v-10h3h3v10h3v10h3v-16h3h3v15h3h3h3v5h3v-2h3h3v14h3h3v-1h3h3v9h3h3v-14h3h3v18h3h3v8h3h3v-3h3h3v4h3v7h3v-6h3h3v9h3h3v2h3v3h3v-1h3h3v10h3h3v1h3h3v1h3v1h3h3v-6h3h3v4h3v1h3h3v1h3v7h3h3v5h3h3v2h3h3v-1h3h3v1h3v11h3v-5h3h3v3h3v-1h3v-11h3h3v10h3v12h3v-15h3h3v18h3v1h3v-11h3h3v-2h3h3v15h3v2h3v-2h3h3v-2h3h3v-1h3h3v4h3v-3h3h3v7h3v3h3v4h3h3h3v-3h3h3v3h3v2h3h3h3h3v2h3h3h3v2h3h3v2h3h3h3v-3h3h3v5h3h3v-11h3h3v13h3v-5h3h3v8h3v5h3h3v-7h3h3v10h3h3h3v-12h3h3v14h3v-1h3v-2h3h3v2h3h3v2h3v-4h3h3v4h3h3v-3h3h3v2h3v3h3v1h3h3v3h3v2h3v1h3h3v-1h3h3v2h3h3v-2h3h3v-3h3h3v3h3v5h3h3v1h3h3v-9h3h3v9h3h3v2h3h3v3h3v-5h3h3v7h3h3v2h3v-1h3h3v7h3v1h3v-5h3v-6h3h3v10h3v-3h3h3v6h3h3v-5h3h3v6h3h3h3h3v1h3v3h3v-6h3h3v-7h3h3v12h3h3h3v2h3h3h3v5h3h3h3v6h3v-2h3h3v-6h3h3v10h3v3h3v-8h3v-1h3v-3h3h3v12h3v-4h3h3v2h3h3v-1h3h3v10h3h3h3v1h3h3v2h3v-5h3v-6h3h3v10h3v-10h3h3v17h3v3h3v-6h3h3v-10h3h3v4h3h3h3v3h3v4h3h3v-1h3h3v6h3h3v1h3v1h3h3v-11h3h3v15h3h3v1h3v-5h3v-2h3h3h3h3v4h3v1h3v-3h3h3v6h3v-3h3h3v5h3v3h3v-6h3h3h3h3v7h3v-6h3h3v4h3h3h3v3h3h3v2h3v-4h3h3v5h3v5h3v-1h3v-6h3h3v4h3h3v-8h3h3v7h3h3v1h3v2h3h3v1h3v-4h3h3v8h3h3v-2h3h3v8h3v-8h3h3v3h3h3v3h3v-4h3h3v4h3v-7h3h3v6h3v2h3h3v1h3v-1h3h3v3h3h3v-2h3v-9h3h3v6h3h3v-5h3h3v5h3h3v6h3h3h3v-2h3h3v-3h3h3v5h3v20h-3v4h-3h-3v-2h-3h-3v7h-3h-3v-10h-3v1h-3v1h-3h-3v-5h-3h-3v3h-3h-3v8h-3h-3h-3h-3v-12h-3v6h-3h-3v1h-3h-3v-2h-3v-7h-3h-3v7h-3h-3v2h-3h-3v-5h-3v-1h-3v-1h-3h-3h-3v-4h-3h-3h-3h-3v-1h-3h-3v1h-3h-3v-2h-3v4h-3h-3v-5h-3h-3v-2h-3h-3v1h-3h-3v-2h-3h-3v3h-3h-3h-3v-6h-3v1h-3v1h-3h-3v-1h-3h-3v2h-3v4h-3h-3v-2h-3v-6h-3v4h-3h-3v-6h-3v-2h-3h-3v1h-3h-3v-6h-3v3h-3h-3v-3h-3h-3v-4h-3v11h-3h-3v2h-3h-3h-3v-9h-3h-3v-4h-3v1h-3h-3v-3h-3v11h-3h-3v-11h-3v1h-3h-3h-3v-1h-3h-3h-3v-8h-3v3h-3h-3v-2h-3v11h-3h-3v-4h-3v-2h-3v-2h-3v-8h-3v7h-3h-3v-6h-3v-1h-3v2h-3h-3v-1h-3v-4h-3v2h-3v1h-3h-3v1h-3h-3v-9h-3v13h-3h-3v-13h-3v2h-3h-3v3h-3h-3v-8h-3v-4h-3v5h-3h-3v-1h-3h-3v-5h-3v4h-3h-3v1h-3h-3v-7h-3v-3h-3h-3h-3v2h-3h-3v-3h-3h-3v-1h-3h-3v-3h-3v-1h-3h-3v-1h-3v6h-3h-3v-6h-3v6h-3h-3v-11h-3v6h-3v7h-3h-3h-3v-12h-3v-4h-3v3h-3h-3v-3h-3h-3v-1h-3v10h-3h-3v-10h-3h-3h-3v2h-3h-3v-6h-3h-3v4h-3h-3v4h-3h-3v-5h-3v-4h-3v3h-3h-3v-5h-3v8h-3h-3v-10h-3h-3v-2h-3h-3v-1h-3v-3h-3v3h-3h-3v-1h-3v-2h-3v-2h-3v5h-3h-3v-1h-3v-5h-3v-4h-3h-3v15h-3h-3v-12h-3v2h-3h-3v-6h-3h-3h-3v4h-3h-3v6h-3h-3v-15h-3v-1h-3h-3v-2h-3v-4h-3v2h-3h-3v-1h-3v1h-3v5h-3h-3v-1h-3v-1h-3v4h-3h-3v-12h-3v-1h-3v8h-3h-3v-12h-3v-1h-3h-3v5h-3h-3v5h-3h-3v-12h-3v4h-3v7h-3h-3v-18h-3v18h-3h-3v-17h-3v1h-3h-3h-3v-4h-3v-3h-3v1h-3v2h-3h-3v-1h-3v3h-3h-3v-1h-3h-3v-10h-3h-3h-3v5h-3h-3v-8h-3v15h-3h-3v-13h-3v2h-3h-3v-2h-3v-8h-3v14h-3h-3v-9h-3v-6h-3h-3v-4h-3v1h-3h-3v3h-3h-3v-4h-3h-3v-7h-3v-1h-3v12h-3h-3v-13h-3v-3h-3v-7h-3h-3v-5h-3v1h-3h-3v3h-3h-3v-10h-3v-1h-3v4h-3h-3v-3h-3v-4h-3h-3v-5h-3v13h-3h-3v-17h-3v-3h-3h-3v-8h-3v2h-3h-3v5h-3h-3v-3h-3v-8h-3h-3h-3h-3h-3v-10h-3v13h-3h-3v-20h-3h-3v12h-3h-3v-10h-3h-3v8h-3h-3v-17h-3v-2h-3h-3v11h-3h-3v-8h-3v5h-3h-3v-23h-3v8h-3h-3v-6h-3v-7h-3v3h-3v1h-3h-3v-11h-3h-3v2h-3v1h-3h-3v-6h-3h-3v-2h-3v18h-3h-3v-10h-3v-8h-3v2h-3v1h-3h-3v-11h-3v6h-3h-3v-4h-3h-3v-2h-3v-1h-3h-3v-3h-3v-7h-3h-3v5h-3h-3v4h-3h-3v-19h-3h-3v-4h-3h-3v-1h-3v-1h-3v-5h-3h-3v-5h-3v-8h-3v4h-3h-3v-7h-3v1h-3h-3v11h-3h-3v-24h-3h-3v-6h-3v-7h-3v2h-3h-3v-3h-3v-9h-3v-5h-3v6h-3v10h-3h-3v-11h-3v-7h-3v9h-3h-3v-12h-3h-3v-10h-3v6h-3h-3v-10h-3h-3v-1h-3v9h-3h-3v-17h-3v1h-3h-3v-14h-3v9h-3h-3v-17h-3v8h-3h-3v-22h-3v-4h-3h-3v-8h-3v-4h-3v-7h-3v3h-3h-3v-15h-3v-7h-3v-5h-3v-13h-3h-3v-19h-3v9h-3h-3v-21h-3v-1h-3h-3v-9h-3v-18h-3h-3v-4h-3h-3v-21h-3v4h-3h-3v-7h-3h-3v-8h-3v18h-3h-3v-38h-3v2h-3v1h-3h-3v-9h-3h-3h-3v-5h-3h-3v-5h-3v-1h-3h-3v-11h-3v-3h-3v-8h-3h-3v-6h-3h-3v15h-3h-3v-5h-3v-12h-3v-13h-3v3h-3h-3v8h-3h-3v-12h-3v-5h-3v14h-3h-3v-8h-3v-18h-3h-3v12h-3h-3h-3v3h-3v2h-3v11h-3h-3v-4h-3v7h-3v17h-3h-3v-9h-3v5h-3v20h-3h-3v-4h-3v4h-3h-3v6h-3v10h-3v27h-3h-3v-16h-3v15h-3v20h-3h-3v10h-3h-3v-7h-3h-3v8h-3v4h-3h-3v1h-3v23h-3h-3v-6h-3v22h-3v2h-3h-3v2h-3v8h-3v22h-3v8h-3h-3v-21h-3v10h-3v6h-3v11h-3h-3v1h-3h-3v2h-3v6h-3v7h-3v2h-3v25h-3h-3v-10h-3v22h-3h-3v-1h-3h-3v9h-3v9h-3h-3v14h-3h-3v3h-3v17h-3h-3v14h-3h-3v-8h-3v9h-3v3h-3v2h-3v6h-3v14h-3h-3v5h-3h-3v-6h-3v-10h-3v10h-3v14h-3h-3v-3h-3h-3v6h-3h-3v-3h-3v3h-3v3h-3v3h-3h-3v5h-3h-3v5h-3v23h-3h-3v-8h-3h-3v-2h-3v1h-3v9h-3h-3v-2h-3v-2h-3v3h-3v15h-3h-3h-3h-3v6h-3h-3v1h-3h-3v-1h-3v22h-3h-3v-2h-3h-3v-12h-3v4h-3h-3v-1h-3v-3h-3h-3h-3h-3v-4h-3v2h-3h-3v-5h-3v10h-3h-3v-5h-3v-7h-3v13h-3v5h-3h-3v-15h-3v-3h-3h-3h-3v-4h-3v12h-3v2h-3h-3v-9h-3v-2h-3v-6h-3h-3v-2h-3v-4h-3h-3v-8h-3v-3h-3v4h-3h-3v-9h-3h-3h-3v-8h-3v-6h-3v-1h-3v-1h-3h-3v-6h-3v3h-3v6h-3v3h-3h-3v-17h-3h-3v-3h-3v-5h-3h-3v-11h-3v8h-3h-3v12h-3h-3v-26h-3v-1h-3v-8h-3v3h-3h-3v1h-3v13h-3h-3v-29h-3v10h-3h-3v-3h-3v-15h-3h-3h-3v6h-3h-3v-2h-3v12h-3h-3v-4h-3v17h-3h-3v-15h-3v9h-3h-3v-3h-3v5h-3v9h-3v7h-3v8h-3h-3v2h-3v10h-3v26h-3h-3v-2h-3v3h-3v2h-3v6h-3z"/>
<path fill="#B177DE" d="M254 1492h3h3v-7h3h3v1h3v-10h3h3h3h3v-20h3h3v10h3h3v-7h3h3v-8h3h3v9h3v3h3v-8h3h3v18h3v-12h3h3v10h3v1h3h3v-17h3h3v15h3h3v8h3v2h3v-3h3h3v12h3h3h3v12h3v-7h3h3v8h3v1h3v6h3v-4h3v-3h3h3v11h3v-7h3h3v3h3v7h3h3v9h3v-1h3h3v3h3v3h3v-1h3v-6h3h3v15h3v-4h3v-9h3h3v13h3v-2h3h3v11h3h3h3v-14h3h3h3v8h3v-7h3h3v11h3v-3h3h3v6h3v1h3v-11h3h3v12h3v-1h3v-5h3v-9h3h3v8h3h3h3v2h3v1h3v2h3v2h3v-11h3v-1h3v-4h3h3v11h3v-4h3h3v-6h3v-10h3h3v11h3v-2h3v-5h3h3v5h3v-8h3h3v7h3h3v-2h3h3v-9h3h3v9h3v1h3v-4h3h3v-5h3h3v-14h3v-1h3h3v7h3h3v1h3v-5h3v-5h3h3v7h3v-5h3h3v3h3v-3h3v-5h3v-1h3h3h3h3h3v-6h3h3v5h3v1h3v-1h3v-11h3h3v8h3v-12h3h3v7h3h3v-2h3v-4h3h3v1h3v-13h3h3v11h3h3v-20h3h3v9h3v-4h3v-9h3h3v14h3v-23h3h3v-2h3h3v14h3v-2h3v-3h3v-4h3h3v-14h3h3v4h3h3v-4h3v-7h3h3v-6h3h3v-9h3h3v5h3h3v-3h3h3v-2h3v-19h3h3v9h3v-1h3v-2h3h3v-3h3h3v-2h3v-7h3h3v3h3v-7h3h3v-1h3h3v-1h3v-2h3h3v-3h3h3v-3h3h3v-1h3v-18h3h3v17h3h3v8h3v-9h3h3v-10h3h3v9h3v-1h3v-1h3v-4h3h3v8h3h3h3v7h3h3v-1h3h3v7h3v5h3v-11h3v-2h3h3v22h3h3v-15h3h3v26h3v-16h3h3v19h3v-6h3h3v7h3v-1h3h3v8h3h3v-13h3h3v19h3h3v6h3v-3h3h3v2h3v12h3v-16h3h3v16h3v-1h3h3v-1h3h3h3h3v9h3h3v8h3h3h3v-2h3h3v5h3v6h3v6h3v-4h3h3v1h3v11h3v-5h3h3v-4h3h3v-5h3h3v13h3h3v9h3h3h3v-9h3h3v9h3v4h3h3v-6h3v-7h3h3v13h3h3v1h3h3v-7h3h3v13h3v-1h3h3v5h3v4h3v-2h3h3v-6h3h3v2h3h3v14h3h3v4h3v-3h3h3v14h3v-6h3h3v1h3h3v8h3v2h3v2h3v2h3v2h3v-5h3h3v-10h3h3v12h3v-2h3h3v4h3v-10h3h3v1h3v16h3v-5h3h3v7h3v1h3v-12h3h3v11h3v-12h3h3v11h3v-9h3h3v10h3h3v6h3v-4h3h3h3v6h3h3v-10h3h3h3v6h3v-6h3h3v8h3h3v1h3h3v3h3v-2h3h3v1h3h3v1h3h3v-8h3h3v13h3h3v1h3h3v-8h3v-6h3h3v16h3v-5h3v-5h3h3v2h3h3v1h3v-6h3h3v15h3h3v-5h3h3v3h3h3v1h3h3h3v1h3v-1h3h3v1h3h3h3h3v2h3v-5h3h3v7h3h3v1h3h3h3v1h3v2h3v-3h3h3h3h3v7h3v1h3v-1h3v-2h3h3v5h3v1h3v-2h3v-3h3h3v3h3v-4h3h3h3h3v6h3v-1h3h3v2h3v-3h3h3v6h3v-5h3h3v3h3v1h3v-5h3h3v1h3v6h3v-2h3h3v-8h3h3v6h3v7h3h3h3v1h3v-2h3v-9h3h3v1h3v12h3h3v-10h3h3v12h3h3v3h3v-4h3h3v-1h3h3v7h3h3v-2h3v-3h3h3v6h3v-1h3h3v-6h3h3v5h3h3v1h3h3v4h3v-1h3h3v-3h3v-3h3h3v11h3v2h3v-6h3h3v2h3v3h3v3h3h3v-4h3h3v1h3v-2h3v-2h3h3v1h3v-3h3h3v11h3v-6h3h3v8h3v-2h3h3h3v2h3h3v-6h3h3v6h3h3v3h3v1h3v2h3v2h3v-4h3v-2h3h3v-1h3h3h3h3v4h3v2h3h3h3h3v4h3v-2h3h3v2h3v4h3h3v-11h3h3v5h3h3h3v5h3v-2h3h3v5h3h3v-2h3h3v1h3v2h3v1h3v-3h3h3v3h3h3v-2h3v-6h3h3v10h3v-2h3h3v6h3h3v-1h3v-1h3v-5h3h3v5h3v-4h3h3v4h3v2h3h3v2h3v-2h3h3v1h3v-3h3h3v1h3v3h3v4h3v-3h3h3v1h3v1h3v-1h3h3h3v-2h3h3h3v2h3h3v-6h3h3v7h3v-2h3h3v3h3v2h3v-3h3h3v5h3v1h3v-11h3h3v6h3v4h3v-3h3h3v-2h3h3v4h3h3v1h3v-7h3h3v3h3v8h3v-3h3h3v-1h3h3v3h3h3h3v-1h3v-7h3h3v5h3v5h3v-2h3h3v1h3v-2h3h3v-1h3h3v3h3v-1h3h3v1h3h3v-2h3h3v3h3h3v-2h3v-1h3h3v6h3h3h3v-2h3v-5h3h3v3h3v7h3v-2h3v-1h3v-1h3h3v2h3v-4h3h3v1h3v-2h3h3v3h3h3v4h3v1h3v-1h3h3v-4h3h3v4h3v1h3h3v-2h3v-3h3h3v7h3v-1h3v-1h3h3v-3h3h3v1h3h3h3v5h3v-5h3v-1h3v-2h3h3h3v1h3h3v28h-3h-3h-3h-3v-5h-3h-3v-4h-3v1h-3h-3v-2h-3v4h-3h-3v1h-3h-3v-1h-3h-3v1h-3h-3v-2h-3h-3h-3v-1h-3h-3h-3h-3v-1h-3v1h-3h-3h-3v-2h-3h-3h-3v1h-3h-3v5h-3h-3v-1h-3h-3v-3h-3h-3v3h-3h-3v-5h-3v-3h-3v-1h-3v4h-3v2h-3h-3v-4h-3v6h-3h-3v-3h-3v-3h-3v7h-3h-3v-7h-3h-3v-1h-3v5h-3h-3v-6h-3v6h-3h-3v-2h-3v-2h-3h-3v1h-3h-3v4h-3h-3v-9h-3h-3v6h-3h-3v-5h-3v4h-3h-3v-4h-3v3h-3h-3v-5h-3h-3v-1h-3v-1h-3v5h-3h-3v1h-3h-3v-5h-3v7h-3h-3v-3h-3h-3v-5h-3h-3v3h-3h-3v-1h-3h-3v-5h-3v1h-3h-3v1h-3h-3h-3v-2h-3v-1h-3h-3v1h-3v2h-3h-3v-1h-3h-3v-1h-3h-3v-3h-3h-3v1h-3h-3v-2h-3v1h-3h-3v-1h-3h-3v-3h-3v1h-3h-3h-3h-3v-1h-3h-3v-1h-3v9h-3h-3v-6h-3v6h-3h-3v-8h-3v3h-3h-3v4h-3h-3v-1h-3h-3v-8h-3h-3h-3v-1h-3h-3h-3h-3v-2h-3v1h-3v2h-3h-3h-3v-7h-3v2h-3h-3v5h-3h-3v-6h-3v-1h-3h-3v-1h-3h-3v1h-3h-3h-3v6h-3h-3v-6h-3h-3v-5h-3v1h-3h-3v7h-3h-3v-8h-3h-3v7h-3h-3v-11h-3v3h-3h-3h-3h-3v-4h-3h-3v-2h-3v3h-3h-3h-3v-1h-3v-1h-3v-1h-3h-3v-2h-3h-3v-3h-3v1h-3h-3v-4h-3v1h-3v7h-3h-3v-3h-3h-3v-4h-3h-3h-3h-3v-1h-3h-3v-1h-3v-2h-3v4h-3v3h-3h-3v-11h-3v1h-3h-3h-3v6h-3v1h-3h-3v-5h-3v-4h-3v6h-3h-3v-8h-3v3h-3h-3v-4h-3v5h-3h-3v-2h-3h-3h-3h-3v-5h-3v-1h-3v1h-3h-3v-2h-3h-3v-3h-3h-3v-1h-3h-3v3h-3v3h-3h-3v-5h-3v3h-3h-3v7h-3h-3v-14h-3v1h-3h-3v11h-3h-3v-13h-3v1h-3v2h-3h-3v-2h-3v-2h-3h-3h-3h-3v-3h-3v4h-3h-3v-3h-3v-2h-3v9h-3h-3v-8h-3v3h-3v4h-3h-3v-2h-3v-8h-3h-3h-3v8h-3h-3v-7h-3h-3v-1h-3v9h-3h-3v-7h-3h-3v-5h-3v-3h-3v6h-3h-3v-4h-3v1h-3h-3v-5h-3h-3h-3v-2h-3h-3v2h-3v6h-3h-3v-6h-3h-3v8h-3h-3v-10h-3v1h-3v3h-3h-3h-3h-3v-9h-3v2h-3h-3v-3h-3v6h-3h-3v-3h-3h-3h-3v-5h-3v2h-3v2h-3h-3v1h-3v4h-3h-3v-10h-3h-3v-1h-3v1h-3v6h-3h-3v-11h-3v5h-3v1h-3v8h-3h-3v-14h-3v4h-3h-3v-9h-3v16h-3h-3v-7h-3h-3v-6h-3h-3v4h-3h-3v-5h-3v-4h-3v2h-3v3h-3h-3v-1h-3v-1h-3v-2h-3v2h-3h-3v4h-3h-3v-1h-3v-10h-3v3h-3h-3v-6h-3v4h-3v7h-3h-3v-6h-3v1h-3h-3v-8h-3v4h-3h-3v-4h-3v2h-3v7h-3h-3v-9h-3v-5h-3v-7h-3h-3v3h-3h-3v5h-3h-3v-15h-3v11h-3h-3v-13h-3v-2h-3v1h-3v1h-3v2h-3h-3v-12h-3h-3v-1h-3h-3v-3h-3v-5h-3h-3v2h-3v2h-3v10h-3h-3v-14h-3v-3h-3v4h-3h-3v8h-3h-3v-12h-3v-3h-3v5h-3v1h-3h-3v-12h-3v7h-3h-3v-3h-3v-9h-3v1h-3h-3v3h-3h-3v-6h-3h-3v-3h-3v3h-3h-3v-4h-3v3h-3h-3v-3h-3h-3v-10h-3h-3v-7h-3v-2h-3v2h-3h-3v-3h-3h-3v-4h-3v-4h-3h-3v-5h-3v1h-3v1h-3v6h-3v2h-3h-3v-22h-3v1h-3h-3v-2h-3v-5h-3h-3v10h-3h-3v-14h-3v3h-3h-3v2h-3h-3v-18h-3v-3h-3v15h-3h-3v-18h-3h-3v6h-3h-3v-19h-3v3h-3h-3v-2h-3h-3v-1h-3h-3h-3v1h-3h-3v-6h-3v-8h-3h-3v1h-3v5h-3h-3v-10h-3v16h-3h-3v-12h-3h-3v-4h-3v9h-3h-3v1h-3h-3v-3h-3v5h-3h-3v2h-3h-3v-1h-3v2h-3v19h-3h-3v-12h-3v4h-3v13h-3h-3v-4h-3h-3v-4h-3v7h-3h-3v-2h-3h-3v-3h-3v15h-3h-3v-5h-3v-1h-3v16h-3v4h-3h-3v-1h-3h-3h-3v8h-3v5h-3v1h-3v7h-3h-3v-12h-3v9h-3h-3v7h-3v5h-3h-3v-8h-3v5h-3h-3v11h-3h-3v5h-3h-3v-2h-3h-3v2h-3v2h-3v4h-3h-3v1h-3h-3v9h-3v5h-3h-3v-12h-3h-3v-2h-3v13h-3h-3v-5h-3v7h-3v7h-3h-3v-12h-3v3h-3v1h-3h-3v-7h-3v9h-3v3h-3h-3v-6h-3v8h-3h-3v7h-3h-3v-6h-3h-3v1h-3v1h-3v9h-3h-3h-3v1h-3h-3v-4h-3h-3v12h-3h-3v1h-3h-3v-6h-3v2h-3h-3v-1h-3h-3v3h-3v4h-3v7h-3h-3v-5h-3h-3v-2h-3h-3v4h-3v2h-3h-3v9h-3h-3v1h-3h-3v-6h-3v2h-3h-3v-2h-3h-3v-6h-3v6h-3v12h-3h-3v-11h-3v3h-3h-3v-1h-3v4h-3h-3v-4h-3h-3v12h-3h-3v-9h-3v-2h-3h-3v2h-3h-3v9h-3h-3v-14h-3v4h-3h-3h-3v8h-3h-3v-9h-3h-3v-8h-3v-2h-3v-3h-3v7h-3h-3v-4h-3v2h-3h-3v-7h-3v-9h-3v8h-3v3h-3h-3v-8h-3v1h-3h-3v-2h-3v-5h-3h-3v-3h-3h-3v-1h-3v-9h-3h-3v-3h-3v-1h-3h-3v-2h-3v-4h-3v11h-3h-3v-12h-3v3h-3h-3v3h-3h-3v-19h-3v-1h-3h-3v6h-3h-3v-15h-3h-3v4h-3h-3v-10h-3v7h-3h-3v-2h-3v-8h-3v11h-3h-3v-8h-3h-3v-2h-3v17h-3h-3v-11h-3v2h-3h-3v7h-3v2h-3h-3v5h-3h-3v-1h-3v5h-3v6h-3h-3z"/>
<path fill="#CC9900" d="M254 1433h3v-10h3v-18h3h3v-1h3h3v-5h3v-3h3h3v1h3v-2h3v-7h3v-1h3h3v-2h3h3v-7h3h3h3v-16h3h3v14h3h3v-1h3v-6h3h3v1h3v-2h3h3v-6h3h3v10h3h3v1h3v-8h3h3v-4h3h3v-5h3h3v3h3v-9h3h3v17h3v1h3v-2h3h3v-19h3h3v13h3h3v4h3v6h3v-10h3h3v4h3v-1h3h3v6h3v-6h3h3v7h3v-4h3v-6h3h3v8h3v-1h3v-11h3h3v9h3h3v3h3h3v-2h3h3v2h3h3v7h3v-3h3v-16h3h3v15h3v-16h3h3v4h3h3v10h3v-1h3v-3h3v-1h3h3v-2h3h3v-11h3h3v10h3h3v-1h3h3v-17h3h3v5h3v-5h3h3v-1h3h3v10h3v-9h3h3v1h3v-8h3h3v6h3v-3h3h3v-1h3v-17h3h3v8h3v-4h3h3v-2h3v-10h3v-3h3h3v3h3h3v5h3v-14h3h3v2h3v-6h3v-3h3h3v-23h3h3v18h3h3v-3h3v-10h3v-11h3v-7h3v-13h3h3v7h3h3v8h3v-32h3h3v7h3v-6h3h3v-11h3h3v-13h3h3v-11h3v-19h3h3v12h3v-3h3v-13h3v-18h3v-8h3h3v-1h3h3v-6h3v-10h3h3v-10h3v-1h3v-4h3v-13h3v-7h3h3v-2h3v-11h3v-18h3v-4h3v-10h3v-1h3h3v5h3v-13h3v-4h3v-25h3h3v-2h3v-33h3h3v17h3v-11h3v-16h3h3v-12h3h3v-22h3h3v2h3h3v2h3v-33h3h3v16h3v-11h3v-17h3h3v9h3v-2h3v-19h3v-12h3h3v23h3v-18h3v-1h3v-12h3v-6h3v-3h3h3v9h3v-18h3v-7h3v-6h3v-18h3h3v3h3v10h3v12h3v-15h3h3v12h3v-4h3v-8h3h3v4h3v13h3h3v10h3v10h3v-1h3v-2h3h3v16h3v-12h3h3v-4h3h3v1h3v14h3h3v3h3v14h3v16h3v-29h3h3v27h3v10h3v-14h3h3v30h3h3v-14h3v-2h3h3v30h3h3v7h3v19h3v-2h3h3v11h3v6h3v1h3v1h3v14h3v10h3v9h3v-1h3v-7h3h3v16h3v27h3h3v8h3v4h3v20h3v14h3h3v9h3v-2h3h3v9h3v-12h3h3v34h3v2h3h3v-8h3v-8h3h3v20h3h3v7h3v8h3v-1h3v-14h3h3v15h3v-4h3h3v11h3v-1h3h3h3v15h3v-5h3h3v-3h3h3v5h3v2h3v1h3v12h3v-7h3h3h3v15h3v-16h3h3v21h3h3v6h3v1h3v-15h3h3v24h3v8h3h3h3v-2h3h3v4h3v-7h3h3v24h3v8h3v5h3h3h3v3h3v-11h3h3v2h3v-4h3h3v18h3h3v3h3v-13h3h3v15h3v5h3v-1h3h3v2h3v2h3h3v4h3h3v3h3h3h3v6h3v-6h3h3v5h3h3v1h3h3v1h3h3v7h3v-21h3h3v17h3v10h3v-3h3h3h3h3h3v4h3v-9h3h3v21h3v-21h3h3v28h3v-18h3h3v12h3v6h3v7h3v-4h3h3v6h3v2h3v-4h3h3v1h3v1h3v4h3v2h3v-6h3h3v1h3h3v7h3v2h3v-5h3h3v9h3v1h3v-4h3h3v10h3v1h3v2h3v1h3v-12h3h3v16h3v-6h3h3v4h3v2h3v8h3h3v-6h3h3v-2h3h3v13h3h3v-3h3h3v-7h3h3v17h3v1h3v-13h3h3v4h3h3v13h3v-5h3v-2h3h3v7h3v-1h3h3v10h3h3v6h3v-9h3h3v-1h3h3v-7h3h3v11h3v-9h3h3v6h3h3v13h3v-3h3h3v2h3v-1h3h3v2h3h3v-1h3h3v7h3v-1h3h3v2h3v-9h3h3v7h3v9h3v3h3h3v-4h3h3v3h3v2h3h3v-15h3h3v20h3v-9h3h3v6h3v-3h3h3v1h3h3v5h3v-11h3h3v11h3v5h3v3h3v-15h3h3v2h3h3v18h3v3h3v-1h3v-1h3v-8h3h3v8h3h3v5h3v-7h3h3v10h3v-6h3h3v4h3h3v1h3h3v8h3v-3h3v-1h3h3h3v-1h3h3v9h3v-15h3h3v8h3h3v13h3v-4h3v-1h3v-1h3h3v10h3v-4h3v-9h3h3v17h3v-5h3h3v1h3v6h3v1h3h3v3h3v3h3h3v-4h3h3v7h3h3v5h3h3v-13h3h3v5h3v8h3h3v9h3v-3h3v-5h3h3v7h3v1h3v1h3v-4h3h3v8h3v1h3h3h3h3h3h3v2h3h3v7h3v-8h3h3v5h3v3h3v3h3h3v-1h3h3v-9h3h3v11h3h3v9h3h3v-5h3h3h3h3v4h3h3v3h3h3v3h3v-4h3h3v6h3v-5h3h3v9h3v-3h3h3v-7h3h3v7h3v3h3h3h3v1h3v2h3v1h3v-13h3h3v12h3h3h3v7h3h3v-15h3h3v20h3h3v-8h3h3h3h3v4h3v-2h3v-1h3v-7h3h3v2h3h3v16h3h3v-3h3v-5h3h3v3h3v4h3v-7h3h3v10h3h3h3v-5h3v-3h3h3v11h3h3h3v2h3v2h3h3v2h3h3h3h3h3v2h3h3h3h3h3v-5h3h3v2h3v-4h3h3v15h3v-3h3h3v-8h3h3v7h3h3v2h3h3v1h3v-3h3h3v7h3h3h3h3h3v1h3h3v3h3h3v1h3v-2h3h3v-4h3h3v5h3v2h3v-7h3h3v6h3v-11h3h3v5h3v29h-3h-3v3h-3v3h-3h-3v-8h-3v-1h-3v-1h-3v3h-3h-3v4h-3h-3h-3v2h-3h-3v-9h-3v2h-3h-3v-5h-3h-3v3h-3h-3v8h-3h-3v-11h-3v-2h-3h-3v-1h-3v-2h-3v7h-3v6h-3h-3v-9h-3h-3v-1h-3v-7h-3v5h-3h-3v2h-3h-3v-4h-3h-3h-3v-4h-3v-1h-3v1h-3v6h-3h-3v-4h-3v1h-3h-3v-1h-3v2h-3h-3v-8h-3v3h-3h-3v-1h-3h-3v5h-3h-3v-4h-3h-3v-3h-3h-3v-9h-3v7h-3h-3v-8h-3h-3v-2h-3v8h-3h-3v-9h-3v-2h-3v1h-3h-3v-2h-3v10h-3h-3v-3h-3h-3v-1h-3h-3v-4h-3v7h-3h-3v-13h-3v-1h-3v5h-3h-3v-6h-3h-3v1h-3h-3v-4h-3v1h-3h-3v-8h-3v-1h-3v15h-3h-3v-3h-3h-3v-13h-3v3h-3v1h-3h-3v4h-3h-3v-4h-3v-2h-3v5h-3h-3v-5h-3v8h-3h-3v-16h-3v4h-3h-3v-4h-3v3h-3h-3v-3h-3v-6h-3v2h-3h-3v2h-3h-3v-7h-3v2h-3h-3v1h-3h-3v-3h-3h-3v-5h-3h-3v6h-3h-3v-4h-3h-3h-3v-1h-3h-3v-7h-3v4h-3v4h-3h-3v-11h-3v-2h-3h-3v-3h-3h-3v12h-3h-3v-6h-3v-4h-3h-3v-1h-3h-3h-3h-3v-13h-3v11h-3h-3v-4h-3h-3v-15h-3v-1h-3v7h-3h-3v-10h-3v12h-3h-3v-14h-3h-3v-2h-3h-3h-3v-4h-3v6h-3v2h-3h-3v-6h-3h-3v-1h-3h-3v8h-3h-3v-16h-3v8h-3h-3v-1h-3v-14h-3h-3v8h-3h-3v-9h-3v4h-3h-3v-5h-3v10h-3h-3v-5h-3h-3v-6h-3v-4h-3v6h-3h-3v-11h-3v7h-3h-3v-4h-3v1h-3h-3v-7h-3h-3h-3v6h-3h-3v-5h-3h-3v-3h-3v14h-3h-3v-7h-3h-3v-3h-3v-9h-3v-5h-3v11h-3h-3v2h-3h-3v-9h-3v12h-3h-3v-16h-3v-4h-3v-2h-3v15h-3h-3v-13h-3v12h-3h-3v-21h-3h-3v-1h-3v19h-3h-3v-21h-3v3h-3h-3v13h-3h-3v-13h-3v1h-3v5h-3h-3v3h-3h-3v-12h-3h-3v9h-3h-3v-13h-3v7h-3h-3v-18h-3v2h-3v2h-3h-3v-4h-3h-3v-2h-3h-3v-1h-3v-6h-3v3h-3h-3v16h-3h-3v-16h-3v1h-3h-3v-1h-3h-3v-5h-3v2h-3h-3v-11h-3v8h-3h-3v-1h-3h-3h-3v-1h-3v-7h-3v-7h-3h-3v-5h-3h-3v13h-3h-3v-6h-3v-7h-3v-1h-3v-9h-3v3h-3h-3v-2h-3v-6h-3h-3v1h-3v4h-3h-3v6h-3h-3v-6h-3v-8h-3v-5h-3h-3v8h-3h-3v-11h-3v8h-3v2h-3h-3v-10h-3v-1h-3v-1h-3v-7h-3v7h-3h-3v6h-3h-3v-8h-3v-5h-3v1h-3h-3v-6h-3v8h-3h-3v-15h-3v-15h-3h-3v12h-3h-3v-4h-3h-3v4h-3h-3v-14h-3h-3v6h-3v4h-3h-3v-3h-3v6h-3h-3v-11h-3v2h-3h-3v10h-3h-3v-28h-3v10h-3v3h-3h-3v-13h-3v3h-3h-3v-2h-3h-3v-3h-3v3h-3h-3v-16h-3v-3h-3v-4h-3v3h-3h-3v-4h-3v1h-3h-3v1h-3h-3v-19h-3v2h-3v16h-3h-3v-20h-3v2h-3h-3v-15h-3v-3h-3h-3v-10h-3v4h-3h-3v-6h-3h-3v-2h-3h-3h-3h-3v2h-3h-3v-7h-3v-18h-3h-3v-5h-3v-3h-3h-3v-7h-3h-3v10h-3h-3v-6h-3h-3h-3v5h-3h-3v4h-3h-3v-26h-3h-3v-1h-3v-6h-3v-6h-3v14h-3h-3v1h-3h-3v-18h-3h-3v16h-3h-3v-28h-3v3h-3h-3v-21h-3v-10h-3v-4h-3v-3h-3v-9h-3v-8h-3v-11h-3h-3v-1h-3v-19h-3v-12h-3v-12h-3v21h-3h-3v-11h-3h-3v-29h-3h-3v-10h-3h-3v-5h-3v-5h-3v-13h-3v-13h-3v3h-3v6h-3h-3v-24h-3h-3v5h-3h-3v-22h-3h-3v-9h-3h-3v-15h-3v4h-3h-3v-15h-3v-3h-3h-3v-2h-3h-3v4h-3h-3v-3h-3v-19h-3v-4h-3v18h-3h-3v-24h-3v3h-3v2h-3h-3v-5h-3v-1h-3v-7h-3v-7h-3v2h-3v15h-3h-3v-12h-3v10h-3h-3v-1h-3v27h-3h-3v-22h-3v-5h-3h-3v23h-3h-3v-5h-3v-4h-3v14h-3v4h-3h-3h-3v8h-3v15h-3v4h-3v6h-3h-3v-4h-3v5h-3v29h-3h-3v-10h-3v7h-3h-3v2h-3v24h-3h-3v-5h-3v15h-3v9h-3h-3v17h-3h-3v23h-3h-3v9h-3h-3v9h-3h-3v18h-3h-3v-1h-3v37h-3h-3v-17h-3v26h-3h-3v-8h-3v3h-3v13h-3v28h-3h-3v1h-3v17h-3h-3v-22h-3v12h-3v14h-3h-3v2h-3v1h-3v30h-3h-3v-12h-3v11h-3h-3v10h-3h-3v16h-3h-3v21h-3h-3v1h-3h-3v-3h-3v11h-3v6h-3h-3h-3v11h-3h-3v12h-3h-3v-5h-3h-3v13h-3h-3v7h-3v5h-3h-3v13h-3h-3v-8h-3v9h-3v4h-3h-3v-10h-3h-3v-1h-3v3h-3v10h-3h-3h-3h-3v3h-3h-3v7h-3v10h-3h-3h-3h-3v-10h-3h-3v4h-3h-3h-3v22h-3h-3h-3h-3v-8h-3h-3v1h-3h-3h-3v12h-3h-3v-1h-3h-3v-10h-3v6h-3h-3v3h-3v9h-3h-3v-5h-3h-3v-12h-3v3h-3h-3v11h-3h-3v-4h-3h-3v-3h-3v3h-3h-3v3h-3v1h-3h-3v-5h-3v4h-3h-3v6h-3h-3v-8h-3v-4h-3v-1h-3h-3v14h-3h-3v-16h-3v1h-3v6h-3h-3v-4h-3h-3v-5h-3h-3v2h-3h-3v8h-3h-3v-3h-3v3h-3h-3v-8h-3h-3v-4h-3v10h-3h-3v5h-3h-3v-9h-3v-1h-3v12h-3h-3v-7h-3v2h-3v4h-3h-3v-4h-3v-5h-3h-3v13h-3v8h-3h-3v-23h-3v10h-3h-3v2h-3v15h-3h-3v-18h-3v2h-3h-3v-2h-3v4h-3h-3v9h-3h-3v15h-3h-3v-1h-3v1h-3v6h-3h-3v-2h-3v22h-3h-3h-3v-10h-3v17h-3h-3z"/>
<path fill="#00CBCC" d="M254 1481h3v-4h3v-13h3h3v-9h3v-2h3h3v-8h3v-25h3h3v4h3v-2h3h3v-9h3v-2h3v-21h3h3v15h3v-12h3v-1h3h3v2h3h3v-2h3v-12h3h3v3h3v-4h3v-1h3h3v9h3v-5h3h3h3h3v-2h3h3v12h3h3v-2h3h3h3v-1h3h3v4h3v-2h3h3v7h3h3v-12h3h3v6h3v7h3v1h3v10h3v-8h3h3v9h3v-2h3v-5h3h3v-6h3h3v7h3v14h3v2h3h3v4h3v-1h3v-9h3h3v3h3v14h3v-20h3h3v20h3v-8h3h3v3h3h3v-4h3v-12h3h3v13h3h3v2h3v-1h3h3v-10h3v-4h3h3v6h3v-12h3h3v14h3v-5h3h3v1h3h3v-8h3h3v3h3v2h3h3h3h3v-10h3v-12h3h3v19h3h3v3h3v-4h3v-5h3v-7h3h3v6h3v-2h3v-4h3v-11h3h3v8h3h3v-2h3h3v-18h3h3v15h3v-16h3h3v7h3v-12h3h3v-7h3h3v4h3v-3h3v-12h3h3v1h3v-1h3v-5h3v-3h3h3v-12h3h3v5h3v-19h3h3v-13h3h3v13h3v-12h3h3v-4h3v-25h3h3v3h3h3v2h3v-3h3v-11h3h3v-11h3h3v-21h3v-1h3h3v10h3v-16h3h3h3v-3h3h3v-8h3v-1h3h3v-14h3v-10h3h3v2h3v-3h3v-4h3v-6h3h3v-14h3v-13h3v-11h3h3v-8h3v-6h3v-4h3v-17h3h3v-5h3v-14h3v-2h3v-7h3h3v-19h3h3v12h3v-11h3v-13h3h3v4h3v-14h3h3v-3h3v-17h3h3v14h3v-16h3h3v-11h3v-7h3h3v11h3v-19h3v-3h3h3v-9h3h3v13h3v-6h3h3v-12h3h3v26h3v-15h3v-15h3h3v15h3v-7h3h3v22h3v12h3v-12h3h3v4h3h3v-3h3h3v23h3h3v14h3h3h3v-11h3h3v14h3v23h3v-3h3v-8h3h3v29h3v-2h3h3v5h3v6h3v11h3v5h3h3v-14h3h3v18h3v2h3h3v16h3v-5h3h3v26h3v2h3v-8h3h3v30h3v-3h3h3v15h3v-2h3h3v-8h3h3v28h3v12h3v1h3v4h3v-9h3h3v35h3v-5h3h3v4h3v14h3v-14h3h3v24h3v-1h3h3v-6h3h3v25h3v-15h3h3v3h3v-2h3h3v6h3v11h3v-6h3h3v7h3h3v1h3v13h3h3v6h3v5h3v-16h3h3v11h3v2h3h3v1h3h3v8h3v4h3v1h3v3h3v-11h3h3v14h3v-1h3v-5h3h3v9h3h3v1h3v-1h3h3v4h3h3v9h3v-9h3h3v17h3v-6h3h3v5h3h3v7h3v11h3v-10h3h3v12h3v3h3h3v-3h3v-7h3h3v5h3v2h3v-6h3v-3h3h3v3h3h3v14h3v-1h3v-17h3h3v9h3v6h3h3v10h3v-11h3h3v8h3v7h3v4h3v-4h3v-16h3h3v20h3v4h3v3h3h3v-9h3h3v5h3v1h3v8h3h3v-2h3h3v3h3v-8h3h3v11h3h3v4h3v1h3v4h3v-9h3v-2h3h3v4h3h3v13h3h3v-16h3h3v9h3v-3h3h3v10h3v2h3v-3h3h3v8h3v-7h3h3v20h3v-4h3v-9h3h3v8h3v-2h3h3v1h3v3h3h3v1h3v1h3h3v-7h3h3v13h3h3h3v3h3v3h3v-3h3h3v2h3v-3h3h3v-11h3h3v16h3h3v-3h3h3v1h3v1h3h3v-10h3h3v20h3v-3h3v-7h3h3v8h3v-6h3h3v1h3v4h3h3v-4h3h3v14h3v-3h3v-6h3h3v-7h3h3v4h3v5h3v8h3v-13h3h3v5h3v11h3v2h3h3v-7h3h3v4h3h3v5h3v-4h3h3v1h3v6h3h3v2h3v-1h3h3v1h3v-1h3v-9h3h3v9h3v2h3h3h3v7h3v-4h3h3v4h3v-1h3v-13h3h3v16h3v-1h3h3v2h3v-1h3h3v-7h3h3v11h3h3h3v3h3v-9h3h3v10h3v-7h3h3v9h3v-2h3h3v-4h3h3v4h3v2h3v4h3v1h3v5h3v-6h3h3v1h3h3v-5h3h3v2h3v-6h3h3v14h3v-1h3h3v6h3v-10h3h3v9h3h3v-3h3h3v2h3v-5h3h3v2h3v-1h3h3v8h3v-3h3h3h3h3v10h3v-5h3v-1h3h3v5h3v-4h3h3v8h3v-5h3v-1h3h3v3h3v3h3h3v-4h3h3v8h3v2h3h3v1h3v-2h3h3v1h3v-2h3h3h3v3h3v3h3v2h3v-2h3v-2h3h3h3v6h3v3h3v2h3v-2h3h3v1h3v-5h3h3v9h3h3v2h3v4h3v-2h3h3v1h3v2h3h3v-3h3h3v-4h3h3v8h3v6h3v-1h3h3v1h3h3v-2h3h3v5h3v-4h3v-1h3h3v-1h3h3v3h3v1h3h3v4h3v-2h3h3v4h3v-10h3h3v10h3h3v4h3v-12h3h3v15h3v-2h3v-3h3h3v1h3v7h3v-1h3v-2h3h3v4h3v-7h3h3v6h3v-10h3h3v4h3v3h3v5h3h3h3v5h3h3v-6h3h3v10h3v-8h3h3v4h3h3v2h3v-7h3h3v5h3v8h3h3v-3h3h3v-4h3h3v4h3v7h3h3v-3h3v-9h3h3v8h3h3v-3h3h3v-3h3h3v10h3v1h3v1h3v1h3h3v2h3v-2h3h3v3h3v-1h3h3h3h3h3v2h3v-1h3h3v1h3v5h3v-4h3h3h3v3h3v-5h3h3v1h3v2h3h3v4h3v21h-3h-3v1h-3v2h-3h-3v3h-3h-3v-11h-3h-3v1h-3h-3v1h-3h-3v-2h-3v-2h-3v10h-3h-3v-13h-3v4h-3v2h-3h-3v-3h-3h-3v-1h-3v-1h-3v9h-3h-3v-14h-3v4h-3h-3v-2h-3v3h-3h-3h-3v-2h-3v-1h-3v6h-3h-3v-8h-3v-2h-3v4h-3h-3v-5h-3v-3h-3h-3v7h-3h-3v4h-3h-3v-2h-3h-3v-8h-3h-3v-8h-3v10h-3h-3v-3h-3v-3h-3h-3h-3v3h-3h-3v-8h-3v6h-3h-3h-3v-2h-3v-5h-3h-3v2h-3v6h-3h-3v-10h-3v-2h-3v-2h-3v12h-3h-3v-13h-3v11h-3h-3v-1h-3v-9h-3h-3v8h-3h-3v-7h-3v-8h-3h-3v-1h-3v1h-3h-3h-3v-1h-3v-1h-3v7h-3h-3v-2h-3v-9h-3v3h-3h-3v10h-3h-3v-6h-3h-3v-7h-3h-3v-2h-3h-3v-3h-3v10h-3h-3v-3h-3v-8h-3v-2h-3v5h-3h-3v-2h-3h-3v-3h-3h-3v-1h-3h-3v-8h-3v10h-3h-3v-1h-3v-4h-3v-1h-3v-6h-3v13h-3h-3v-13h-3h-3v-9h-3v8h-3v9h-3h-3v-11h-3v1h-3h-3v-5h-3h-3v-5h-3v4h-3h-3v3h-3h-3v-2h-3v-4h-3h-3v-3h-3v3h-3h-3v8h-3h-3v-11h-3h-3v-3h-3h-3v-3h-3v9h-3h-3v-2h-3v-4h-3v-1h-3h-3h-3v5h-3h-3v-11h-3h-3v-2h-3h-3v-2h-3h-3v4h-3h-3v-3h-3v-4h-3v5h-3v3h-3h-3h-3v-9h-3v9h-3h-3v-12h-3h-3v6h-3h-3v-1h-3v-2h-3v-3h-3v2h-3h-3v-8h-3h-3v-1h-3h-3v1h-3v2h-3v5h-3h-3v-7h-3v3h-3h-3h-3h-3v-11h-3v9h-3h-3v-9h-3v6h-3h-3v-4h-3v-3h-3v8h-3h-3v5h-3h-3h-3v-11h-3v-5h-3h-3v-3h-3h-3v-3h-3v1h-3v9h-3h-3v-11h-3v6h-3h-3v9h-3h-3v-7h-3h-3v-6h-3v1h-3h-3v-6h-3h-3v2h-3h-3v-10h-3v9h-3h-3v-1h-3v10h-3h-3v-16h-3h-3v4h-3v9h-3h-3v-10h-3v-1h-3h-3v-2h-3h-3h-3h-3v-8h-3h-3v6h-3h-3v-10h-3v-1h-3v1h-3h-3v5h-3h-3v-1h-3h-3v-5h-3v-4h-3v4h-3h-3v-2h-3h-3h-3h-3v-2h-3h-3v-3h-3h-3v9h-3h-3v-15h-3v12h-3h-3v-4h-3v2h-3h-3v-10h-3v-1h-3v3h-3h-3h-3h-3v2h-3h-3v-8h-3v-5h-3h-3v-3h-3v5h-3v5h-3h-3v-12h-3h-3v-2h-3v4h-3h-3v5h-3h-3v-5h-3v-10h-3v12h-3h-3v-7h-3v-3h-3v1h-3h-3v8h-3h-3v-16h-3h-3v-4h-3v4h-3h-3v-2h-3v-12h-3h-3h-3v1h-3h-3v7h-3h-3v-5h-3v1h-3v3h-3h-3v-11h-3v-1h-3v2h-3h-3v-7h-3v-8h-3v20h-3h-3v-12h-3h-3v-3h-3v-6h-3v3h-3h-3v-5h-3h-3v-1h-3v12h-3h-3v-7h-3h-3v5h-3h-3v-18h-3h-3v13h-3h-3v-5h-3h-3v-16h-3v5h-3v4h-3h-3h-3v-6h-3v-3h-3h-3v-1h-3h-3v-2h-3h-3v-6h-3h-3v1h-3h-3v-11h-3h-3h-3h-3v-3h-3v11h-3h-3v-7h-3v-15h-3h-3v-2h-3v10h-3h-3v-8h-3h-3v-7h-3v1h-3h-3v-10h-3v-1h-3v1h-3h-3v12h-3h-3v-27h-3v9h-3v6h-3h-3v-16h-3v-3h-3v-7h-3v5h-3v4h-3h-3v-3h-3v-3h-3h-3v-1h-3v-4h-3v-12h-3v-4h-3h-3v8h-3h-3v-3h-3h-3v-23h-3v5h-3h-3v-11h-3v-2h-3v19h-3h-3v-8h-3v-12h-3v-5h-3v-15h-3h-3v-5h-3v7h-3h-3v-21h-3h-3v-15h-3h-3v-3h-3v-7h-3v12h-3h-3v-5h-3v-31h-3v-9h-3v11h-3h-3v-6h-3h-3v-4h-3v-17h-3v-7h-3h-3h-3v-5h-3v-5h-3v-11h-3v-6h-3h-3v-14h-3v4h-3v13h-3h-3v-30h-3v1h-3h-3v-9h-3h-3v-9h-3h-3v-14h-3v-11h-3v-1h-3v4h-3h-3v-5h-3v1h-3h-3v-7h-3v-11h-3v6h-3h-3v-23h-3v9h-3v8h-3h-3v-6h-3h-3v8h-3h-3v-23h-3v-2h-3v11h-3h-3v-3h-3v1h-3h-3v-6h-3v11h-3v10h-3v1h-3v8h-3h-3v7h-3v4h-3h-3h-3v16h-3h-3v7h-3h-3v-6h-3v5h-3v8h-3v13h-3h-3v22h-3v2h-3h-3v4h-3h-3v-6h-3v11h-3v11h-3h-3v12h-3h-3v10h-3v10h-3v11h-3v1h-3v1h-3v18h-3h-3v6h-3h-3v10h-3v8h-3v1h-3h-3v-6h-3v26h-3h-3v-5h-3h-3v10h-3v2h-3v5h-3v13h-3h-3v-3h-3v11h-3h-3v2h-3v16h-3h-3v-5h-3v5h-3v7h-3h-3v17h-3h-3v-8h-3v10h-3h-3v1h-3h-3v13h-3h-3v1h-3v7h-3v7h-3h-3v4h-3v4h-3v9h-3h-3v-2h-3v9h-3h-3v9h-3v2h-3h-3v-1h-3v11h-3h-3v17h-3h-3v-13h-3h-3v-4h-3v17h-3h-3v-2h-3v7h-3h-3v-10h-3v8h-3h-3v1h-3v9h-3h-3v-10h-3h-3v3h-3v6h-3h-3v-6h-3v3h-3h-3v-4h-3v14h-3h-3v-1h-3v6h-3h-3v-8h-3v-4h-3v1h-3v6h-3h-3v-7h-3v1h-3h-3v-1h-3v5h-3v16h-3h-3v-1h-3h-3v-11h-3v19h-3h-3v-14h-3v-3h-3v4h-3v13h-3h-3v-18h-3v3h-3h-3h-3v-2h-3v17h-3v1h-3h-3v-16h-3v2h-3h-3v1h-3h-3v5h-3h-3v-15h-3h-3v1h-3h-3h-3h-3v-4h-3v-4h-3v5h-3h-3v-7h-3h-3v-2h-3v8h-3h-3v-10h-3h-3v1h-3h-3v-5h-3h-3v-10h-3v17h-3h-3v-20h-3h-3v2h-3v12h-3v3h-3h-3v-16h-3h-3v-8h-3v5h-3v6h-3h-3v-6h-3v17h-3h-3v-21h-3v1h-3v4h-3h-3v5h-3v1h-3v10h-3v1h-3h-3v-5h-3v5h-3v3h-3v7h-3v9h-3h-3v2h-3v9h-3v12h-3h-3v14h-3h-3v18h-3h-3v8h-3h-3z"/>
<path fill="#7D4E4E" d="M254 1549h3v6h3h3h3h3v-17h3h3v14h3v-5h3v-3h3v-1h3h3v-1h3h3v1h3v-3h3h3v-3h3v-4h3h3v-2h3v-12h3h3v2h3h3h3v-10h3h3v10h3v-2h3v-10h3h3v2h3v-1h3v-2h3v-9h3h3v11h3v-10h3h3v-7h3h3v3h3h3v-3h3v-3h3h3v3h3v-17h3h3v17h3v-4h3v-3h3v-5h3v-3h3h3v4h3v-8h3h3v-10h3h3v10h3v1h3v-7h3h3v-11h3h3v12h3v-8h3h3v-7h3v-11h3h3v10h3h3h3v-11h3h3v5h3v3h3v-10h3v-18h3h3v12h3h3v-7h3h3v5h3v-5h3v-17h3h3v13h3h3v-18h3h3v17h3h3v-10h3v-2h3h3v-9h3v-9h3h3v11h3v1h3v-19h3h3v3h3h3v-5h3v-11h3h3v-6h3v-2h3h3v4h3v-9h3v-27h3h3h3v-4h3h3v-12h3v-12h3h3v5h3h3v-12h3v-5h3v-6h3h3v-14h3v-21h3v-7h3h3v17h3v-7h3v-6h3v-3h3v-25h3h3v-22h3h3v-9h3h3v4h3v-16h3v-5h3h3v-14h3v-18h3v-5h3v-36h3h3v-6h3v-4h3v-9h3v-13h3v-10h3h3v-7h3v-1h3v-14h3v-11h3v-3h3v-8h3v-14h3v-5h3v-1h3v-10h3v-8h3v-9h3v-6h3v-20h3v-34h3h3v3h3v-7h3v-18h3v-3h3v-10h3v-21h3v-21h3v-5h3v-29h3v-25h3h3v3h3v-11h3v-40h3h3v-25h3v-5h3h3v-30h3v-22h3v-29h3h3v-13h3v-10h3v-7h3v-17h3v-20h3h3v-35h3v-46h3h3v-11h3v-9h3v-13h3v-36h3v-13h3v-3h3h3v-19h3h3v4h3h3v-3h3v-9h3h3v5h3h3v-1h3v-1h3h3v-2h3h3v-3h3v-7h3h3h3v10h3v-15h3h3v12h3v-21h3h3v24h3v10h3v12h3h3v2h3h3v9h3v24h3h3v5h3h3v-5h3h3v33h3h3v9h3h3v23h3v9h3v-12h3h3v24h3v4h3v-15h3h3v32h3h3v29h3v-5h3h3v25h3h3v29h3h3v12h3v22h3h3v9h3h3v19h3v10h3v10h3v1h3v7h3h3v14h3v4h3h3v8h3h3v31h3v18h3v-7h3h3v17h3v9h3v11h3v-2h3h3v1h3v11h3v14h3v21h3h3v14h3v3h3v-16h3h3v20h3h3v22h3h3v13h3h3v13h3v-7h3h3v7h3h3v8h3v-19h3h3v9h3v14h3v8h3v-3h3v-26h3h3v29h3v4h3v2h3v-7h3h3v1h3v-7h3h3v35h3h3v-11h3h3v20h3v3h3v4h3v-17h3h3v37h3v5h3v-24h3h3v21h3h3v17h3v2h3v4h3v-15h3h3v17h3v2h3v-3h3h3v3h3v6h3v-4h3v-2h3v-16h3h3v14h3h3v6h3h3v4h3v-4h3v-6h3h3v6h3v6h3v1h3v13h3v-6h3h3v5h3v-10h3h3v-6h3h3v21h3h3v13h3v-12h3v-12h3h3v6h3v17h3v-12h3v-2h3h3v12h3v-11h3h3v3h3h3v4h3h3v8h3v-4h3h3v-3h3h3v1h3h3v21h3h3v5h3v-9h3v-6h3h3v14h3h3h3v11h3v6h3v-3h3h3h3v-7h3h3h3v4h3v6h3v7h3h3v6h3v-8h3h3v13h3v-1h3h3v2h3v-4h3h3v9h3v-2h3h3v9h3v1h3v3h3h3v-8h3h3v-1h3h3v9h3v-14h3h3v7h3h3h3h3v6h3h3v2h3v3h3h3v1h3v-1h3h3v4h3v-17h3h3v7h3v11h3v-6h3h3h3v20h3v-2h3h3v-2h3h3v6h3v-13h3v-6h3h3v12h3h3v6h3h3v11h3h3v9h3v-12h3v-6h3h3v8h3h3v13h3v-22h3h3h3v30h3v2h3v-26h3h3v9h3v10h3v-5h3h3v18h3v-11h3h3v11h3h3v-1h3h3v-13h3h3v18h3v13h3h3v-9h3h3h3h3v16h3v4h3v-8h3h3v5h3v-8h3v-10h3h3v27h3v-7h3h3h3v11h3h3v3h3v-7h3h3v3h3v-12h3h3v18h3v11h3v-3h3v-5h3h3v17h3v-20h3h3v21h3v-6h3h3v3h3v9h3v-3h3h3v13h3v-13h3h3v4h3v-1h3h3v11h3v3h3v-6h3h3v10h3h3v12h3h3v2h3h3v-2h3h3v4h3v9h3h3v6h3v8h3v4h3v2h3v-5h3v-2h3h3v-4h3h3v17h3h3v5h3v1h3h3v7h3h3v7h3v-13h3h3h3h3v14h3v3h3v4h3h3v6h3h3v-6h3h3v4h3h3v-5h3h3v18h3v4h3h3h3v8h3v2h3h3v-13h3h3v11h3v-2h3h3v7h3v8h3v-21h3h3v14h3h3v6h3h3v-6h3h3v5h3v10h3v-3h3v-6h3h3v12h3v-9h3h3v-2h3h3v1h3v3h3v10h3v2h3v-4h3h3v-12h3h3v17h3h3v-12h3h3v15h3h3h3v6h3h3v4h3v1h3v7h3v-8h3h3v-8h3h3v12h3h3v9h3v6h3v5h3v-5h3v-6h3v-5h3h3v17h3v-4h3h3v14h3v-7h3v-1h3h3v1h3h3v-8h3h3v14h3v-1h3h3v2h3h3h3v-5h3h3v-4h3h3v6h3h3v-4h3h3v12h3v-3h3v-3h3v-10h3h3v20h3v-1h3v-14h3h3v15h3h3h3h3h3h3v-1h3h3h3v4h3h3v-3h3v-8h3h3v17h3v1h3v-2h3v-2h3h3v4h3v-12h3h3v15h3v31h-3h-3v-5h-3v14h-3h-3v-7h-3v5h-3h-3v-8h-3h-3v-13h-3v-4h-3v4h-3v4h-3h-3v-3h-3v-2h-3v10h-3h-3v-9h-3v-4h-3v-2h-3v5h-3h-3h-3h-3v-4h-3h-3v-6h-3v10h-3h-3v-7h-3v4h-3h-3v-3h-3v5h-3h-3v-4h-3h-3h-3h-3v-5h-3v13h-3h-3v-18h-3v5h-3h-3v-2h-3v13h-3h-3v-7h-3h-3v5h-3h-3v-15h-3v-1h-3v-1h-3v-2h-3h-3v3h-3h-3v-3h-3h-3v-4h-3v-12h-3v6h-3v10h-3h-3v-1h-3v-15h-3v-2h-3v-2h-3v-7h-3h-3v-7h-3v2h-3v11h-3v4h-3h-3v-16h-3v-3h-3v-3h-3v1h-3h-3v-6h-3v19h-3h-3v-15h-3v-2h-3h-3v-1h-3h-3h-3v-5h-3h-3v8h-3v7h-3h-3v-13h-3v-4h-3h-3v-7h-3v3h-3h-3v-2h-3h-3h-3v7h-3h-3v-8h-3v2h-3v3h-3h-3v-13h-3v-6h-3h-3v5h-3v4h-3h-3v-11h-3v5h-3h-3v-1h-3h-3v-10h-3h-3v-1h-3v-4h-3v-4h-3h-3v-2h-3v-2h-3h-3v-5h-3v4h-3h-3v-5h-3v-9h-3v1h-3h-3v1h-3h-3v-13h-3v10h-3h-3v-6h-3h-3v-9h-3h-3v-6h-3v4h-3h-3v5h-3h-3v-4h-3h-3v-12h-3h-3v-15h-3h-3v5h-3v8h-3h-3v-13h-3v-7h-3v-4h-3v11h-3h-3v-12h-3v-2h-3h-3v-1h-3h-3v-9h-3h-3v-12h-3v13h-3h-3v5h-3h-3v-16h-3h-3h-3v-11h-3h-3v-1h-3v-6h-3h-3v4h-3h-3v-5h-3v12h-3h-3v-17h-3v-4h-3h-3v-3h-3h-3v3h-3v1h-3h-3v-4h-3h-3v-3h-3v-14h-3v3h-3h-3v-1h-3v4h-3h-3v7h-3h-3v-21h-3v16h-3h-3v-17h-3v-8h-3v9h-3h-3v-17h-3v15h-3h-3v-2h-3h-3v-16h-3v9h-3v7h-3h-3v-18h-3h-3h-3h-3h-3v-4h-3v3h-3h-3v-7h-3v-4h-3v-1h-3v2h-3h-3v3h-3h-3v-3h-3h-3v4h-3h-3v-4h-3v-7h-3v-7h-3v-1h-3h-3v3h-3v1h-3v1h-3h-3v-6h-3h-3h-3h-3v-1h-3h-3v-6h-3v-5h-3v23h-3h-3v-3h-3v-16h-3h-3v-7h-3h-3v-3h-3h-3v-1h-3v1h-3h-3v-7h-3v20h-3h-3v-30h-3h-3v10h-3v2h-3h-3v-6h-3v-2h-3h-3v-9h-3v2h-3v16h-3v9h-3h-3v-9h-3h-3v5h-3h-3v-26h-3h-3h-3v8h-3h-3v5h-3v1h-3h-3v-21h-3h-3v-3h-3v-6h-3v-2h-3h-3h-3v-9h-3v20h-3h-3v-13h-3v2h-3h-3v-13h-3v9h-3h-3v-19h-3v8h-3h-3v-3h-3h-3v-9h-3v-6h-3v17h-3h-3v-9h-3h-3v-19h-3v12h-3v12h-3h-3v-18h-3v1h-3h-3v-12h-3v18h-3h-3v-17h-3h-3v9h-3h-3h-3h-3v-5h-3v-12h-3v3h-3h-3v15h-3h-3v-14h-3h-3v5h-3h-3v-10h-3v20h-3h-3v-23h-3h-3v3h-3h-3v-5h-3h-3v13h-3h-3v-29h-3v10h-3h-3v-10h-3v3h-3h-3v-9h-3v7h-3v6h-3h-3v3h-3h-3v-17h-3v10h-3h-3v-6h-3v-9h-3h-3v-3h-3v-9h-3h-3v-10h-3v19h-3h-3v-20h-3v9h-3h-3v-2h-3v-2h-3v-38h-3v9h-3h-3v-1h-3h-3v-31h-3h-3v-4h-3v-2h-3v-3h-3h-3v2h-3v3h-3h-3v-12h-3h-3v-3h-3v3h-3h-3v-3h-3v2h-3h-3v14h-3h-3v-18h-3h-3v-6h-3h-3v-13h-3v-5h-3h-3v-13h-3h-3v-22h-3h-3v-12h-3v6h-3h-3v-29h-3v3h-3h-3v-18h-3v-14h-3h-3v7h-3h-3v-32h-3v-17h-3v-11h-3v-5h-3h-3v5h-3h-3h-3v-45h-3v-7h-3v-9h-3v-6h-3v-13h-3v-6h-3v7h-3h-3v-11h-3v-24h-3h-3v-6h-3v-20h-3v-16h-3v-13h-3v2h-3h-3v-7h-3v-9h-3h-3v-21h-3v-16h-3v-5h-3v-1h-3h-3v-17h-3v-7h-3v-14h-3v-4h-3h-3v16h-3h-3v-50h-3v-10h-3v1h-3h-3v-6h-3v-4h-3v5h-3h-3v9h-3h-3v-13h-3h-3v-42h-3v6h-3h-3v6h-3h-3v-9h-3h-3v-18h-3h-3v16h-3h-3v-8h-3v9h-3v6h-3h-3v-8h-3h-3v3h-3v22h-3h-3v-11h-3h-3v14h-3v37h-3h-3v14h-3h-3v3h-3v9h-3v47h-3h-3v14h-3v23h-3v33h-3v14h-3h-3v-3h-3v48h-3h-3v11h-3v33h-3v9h-3h-3v14h-3v19h-3v46h-3h-3v15h-3h-3v15h-3v1h-3v14h-3v8h-3v13h-3v18h-3v21h-3v1h-3v22h-3v9h-3v18h-3h-3v11h-3v13h-3v14h-3h-3v4h-3v18h-3v10h-3h-3v8h-3v19h-3v26h-3h-3v-15h-3v13h-3h-3v15h-3v27h-3h-3v-7h-3v2h-3v22h-3h-3v23h-3v23h-3v22h-3h-3v-8h-3v27h-3h-3v4h-3v10h-3h-3v6h-3v12h-3v2h-3v12h-3v2h-3h-3v12h-3v17h-3v8h-3h-3v-13h-3v11h-3v4h-3h-3v9h-3v16h-3h-3v8h-3v10h-3h-3v-1h-3v5h-3h-3v17h-3h-3v12h-3v2h-3h-3v8h-3h-3v-2h-3v20h-3h-3v-10h-3v-1h-3v10h-3v5h-3v16h-3v7h-3h-3v-2h-3h-3v-9h-3v10h-3h-3h-3v9h-3v3h-3h-3v-7h-3v5h-3v3h-3v12h-3h-3v-12h-3h-3v3h-3h-3v2h-3v5h-3v10h-3h-3v-1h-3v1h-3h-3v14h-3h-3v-11h-3v3h-3v6h-3h-3v5h-3h-3h-3h-3h-3v2h-3h-3v-4h-3v6h-3h-3h-3v5h-3h-3h-3v11h-3h-3v-1h-3v9h-3h-3v-12h-3h-3v9h-3h-3h-3h-3v-3h-3v-1h-3v9h-3h-3v1h-3h-3v1h-3v2h-3v2h-3v7h-3h-3v-6h-3v6h-3v10h-3h-3v-1h-3v-4h-3v9h-3h-3v-9h-3v12h-3h-3v-1h-3h-3v9h-3h-3v1h-3h-3v-1h-3h-3v3h-3h-3v-1h-3v6h-3v2h-3h-3v-3h-3v5h-3h-3v-1h-3h-3v6h-3h-3v-4h-3v8h-3h-3v-4h-3h-3z"/>
</g>
<g stroke="#1a1a1a" stroke-width="1.7" fill="none">
<line x1="944.6" y1="380.1" x2="1199.7" y2="486"/>
<line x1="940.4" y1="766.6" x2="918.3" y2="982.2"/>
<line x1="423" y1="950.4" x2="341.5" y2="1153.4"/>
</g>
<text transform="translate(1200 506.5) scale(0.955 1)" font-size="60.1">(20.5)</text>
<text transform="translate(864 752.5) scale(0.97 1)" font-size="60.1">(20.5)</text>
<text transform="translate(365 938.5) scale(0.97 1)" font-size="60.1">(6.5)</text>
<g fill="#5a5a5a">
<rect x="256" y="49" width="2192" height="3"/>
<rect x="256" y="49" width="3" height="1692"/>
<rect x="2445.8" y="49" width="3" height="1692"/>
</g>
<g fill="#000">
<rect x="250" y="43" width="2204.7" height="6"/>
<rect x="250" y="1740.5" width="2204.7" height="8.5"/>
<rect x="250" y="43" width="6" height="1706"/>
<rect x="2448.6" y="43" width="6.1" height="1733"/>
<rect x="223" y="1741.5" width="30" height="7"/>
<rect x="223" y="1529.2" width="30" height="7"/>
<rect x="223" y="1317.0" width="30" height="7"/>
<rect x="223" y="1104.8" width="30" height="7"/>
<rect x="223" y="892.5" width="30" height="7"/>
<rect x="223" y="680.2" width="30" height="7"/>
<rect x="223" y="468.0" width="30" height="7"/>
<rect x="223" y="255.8" width="30" height="7"/>
<rect x="223" y="43.5" width="30" height="7"/>
<rect x="238.5" y="1635.4" width="14" height="7"/>
<rect x="238.5" y="1423.1" width="14" height="7"/>
<rect x="238.5" y="1210.9" width="14" height="7"/>
<rect x="238.5" y="998.6" width="14" height="7"/>
<rect x="238.5" y="786.4" width="14" height="7"/>
<rect x="238.5" y="574.1" width="14" height="7"/>
<rect x="238.5" y="361.9" width="14" height="7"/>
<rect x="238.5" y="149.6" width="14" height="7"/>
<rect x="249.9" y="1745" width="8" height="31"/>
<rect x="469.6" y="1745" width="8" height="31"/>
<rect x="689.2" y="1745" width="8" height="31"/>
<rect x="908.9" y="1745" width="8" height="31"/>
<rect x="1128.6" y="1745" width="8" height="31"/>
<rect x="1348.3" y="1745" width="8" height="31"/>
<rect x="1568.0" y="1745" width="8" height="31"/>
<rect x="1787.6" y="1745" width="8" height="31"/>
<rect x="2007.3" y="1745" width="8" height="31"/>
<rect x="2227.0" y="1745" width="8" height="31"/>
<rect x="2446.7" y="1745" width="8" height="31"/>
<rect x="359.7" y="1745" width="8" height="15"/>
<rect x="579.4" y="1745" width="8" height="15"/>
<rect x="799.1" y="1745" width="8" height="15"/>
<rect x="1018.8" y="1745" width="8" height="15"/>
<rect x="1238.4" y="1745" width="8" height="15"/>
<rect x="1458.1" y="1745" width="8" height="15"/>
<rect x="1677.8" y="1745" width="8" height="15"/>
<rect x="1897.5" y="1745" width="8" height="15"/>
<rect x="2117.1" y="1745" width="8" height="15"/>
<rect x="2336.8" y="1745" width="8" height="15"/>
</g>
<text transform="translate(201 1764.5) scale(0.955 1)" font-size="70.0" text-anchor="end">0</text>
<text transform="translate(201 1552.2) scale(0.955 1)" font-size="70.0" text-anchor="end">5</text>
<text transform="translate(201 1340.0) scale(0.955 1)" font-size="70.0" text-anchor="end">10</text>
<text transform="translate(201 1127.8) scale(0.955 1)" font-size="70.0" text-anchor="end">15</text>
<text transform="translate(201 915.5) scale(0.955 1)" font-size="70.0" text-anchor="end">20</text>
<text transform="translate(201 703.2) scale(0.955 1)" font-size="70.0" text-anchor="end">25</text>
<text transform="translate(201 491.0) scale(0.955 1)" font-size="70.0" text-anchor="end">30</text>
<text transform="translate(201 278.8) scale(0.955 1)" font-size="70.0" text-anchor="end">35</text>
<text transform="translate(201 66.5) scale(0.955 1)" font-size="70.0" text-anchor="end">40</text>
<text transform="translate(253.9 1848.5) scale(0.955 1)" font-size="70.0" text-anchor="middle">5</text>
<text transform="translate(473.6 1848.5) scale(0.955 1)" font-size="70.0" text-anchor="middle">10</text>
<text transform="translate(693.2 1848.5) scale(0.955 1)" font-size="70.0" text-anchor="middle">15</text>
<text transform="translate(912.9 1848.5) scale(0.955 1)" font-size="70.0" text-anchor="middle">20</text>
<text transform="translate(1132.6 1848.5) scale(0.955 1)" font-size="70.0" text-anchor="middle">25</text>
<text transform="translate(1352.3 1848.5) scale(0.955 1)" font-size="70.0" text-anchor="middle">30</text>
<text transform="translate(1572.0 1848.5) scale(0.955 1)" font-size="70.0" text-anchor="middle">35</text>
<text transform="translate(1791.6 1848.5) scale(0.955 1)" font-size="70.0" text-anchor="middle">40</text>
<text transform="translate(2011.3 1848.5) scale(0.955 1)" font-size="70.0" text-anchor="middle">45</text>
<text transform="translate(2231.0 1848.5) scale(0.955 1)" font-size="70.0" text-anchor="middle">50</text>
<text transform="translate(2450.7 1848.5) scale(0.955 1)" font-size="70.0" text-anchor="middle">55</text>
<text transform="translate(1352 1983) scale(0.95 1)" font-size="85.7" text-anchor="middle">2θ (Degree)</text>
<text transform="translate(82.5 846) rotate(-90) scale(0.95 1)" font-size="85.7" text-anchor="middle">Intensity</text>
<rect x="2154" y="52" width="291.8" height="652" fill="#fff"/>
<rect x="2145" y="43" width="3" height="670" fill="#5a5a5a"/>
<rect x="2148" y="43" width="6" height="670" fill="#000"/>
<rect x="2154" y="704" width="294.6" height="3" fill="#5a5a5a"/>
<rect x="2148" y="707" width="306.7" height="6" fill="#000"/>
<line x1="2155" y1="92.5" x2="2310" y2="92.5" stroke="#515151" stroke-width="7"/>
<text transform="translate(2323 117.0) scale(0.955 1)" font-size="70.0">Po1</text>
<line x1="2155" y1="174.1" x2="2310" y2="174.1" stroke="#F14040" stroke-width="7"/>
<text transform="translate(2323 198.6) scale(0.955 1)" font-size="70.0">Po2</text>
<line x1="2155" y1="255.7" x2="2310" y2="255.7" stroke="#1A6FDF" stroke-width="7"/>
<text transform="translate(2323 280.2) scale(0.955 1)" font-size="70.0">Po3</text>
<line x1="2155" y1="337.3" x2="2310" y2="337.3" stroke="#37AD6B" stroke-width="7"/>
<text transform="translate(2323 361.8) scale(0.955 1)" font-size="70.0">Po4</text>
<line x1="2155" y1="418.9" x2="2310" y2="418.9" stroke="#B177DE" stroke-width="7"/>
<text transform="translate(2323 443.4) scale(0.955 1)" font-size="70.0">Bo1</text>
<line x1="2155" y1="500.5" x2="2310" y2="500.5" stroke="#CC9900" stroke-width="7"/>
<text transform="translate(2323 525.0) scale(0.955 1)" font-size="70.0">Bo2</text>
<line x1="2155" y1="582.1" x2="2310" y2="582.1" stroke="#00CBCC" stroke-width="7"/>
<text transform="translate(2323 606.6) scale(0.955 1)" font-size="70.0">Bo3</text>
<line x1="2155" y1="663.7" x2="2310" y2="663.7" stroke="#7D4E4E" stroke-width="7"/>
<text transform="translate(2323 688.2) scale(0.955 1)" font-size="70.0">Bo4</text>
</svg></body></html>
